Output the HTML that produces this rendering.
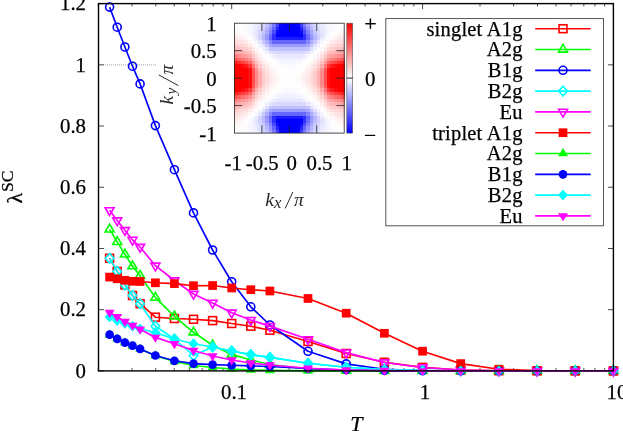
<!DOCTYPE html>
<html>
<head>
<meta charset="utf-8">
<title>lambda SC vs T</title>
<style>
html,body{margin:0;padding:0;background:#fff;}
body{width:623px;height:431px;overflow:hidden;font-family:"Liberation Serif",serif;}
svg{display:block;will-change:transform;}
svg text{stroke:#000;stroke-width:0.25px;}
svg text.lt{stroke:none;}
</style>
</head>
<body>
<svg width="623" height="431" viewBox="0 0 623 431">
<rect x="0" y="0" width="623" height="431" fill="#fff"/>
<g stroke="#333" stroke-width="0.9" fill="none">
<path d="M98.5 370.9h5.5M613.4 370.9h-5.5"/>
<path d="M98.5 309.68h5.5M613.4 309.68h-5.5"/>
<path d="M98.5 248.47h5.5M613.4 248.47h-5.5"/>
<path d="M98.5 187.25h5.5M613.4 187.25h-5.5"/>
<path d="M98.5 126.03h5.5M613.4 126.03h-5.5"/>
<path d="M98.5 64.82h5.5M613.4 64.82h-5.5"/>
<path d="M98.5 3.6h5.5M613.4 3.6h-5.5"/>
<path d="M98.3 370.9v-2.8 M98.3 3.6v2.8"/>
<path d="M131.91 370.9v-2.8 M131.91 3.6v2.8"/>
<path d="M155.75 370.9v-2.8 M155.75 3.6v2.8"/>
<path d="M174.25 370.9v-2.8 M174.25 3.6v2.8"/>
<path d="M189.36 370.9v-2.8 M189.36 3.6v2.8"/>
<path d="M202.14 370.9v-2.8 M202.14 3.6v2.8"/>
<path d="M213.2 370.9v-2.8 M213.2 3.6v2.8"/>
<path d="M222.97 370.9v-2.8 M222.97 3.6v2.8"/>
<path d="M231.7 370.9v-5.5 M231.7 3.6v5.5"/>
<path d="M289.15 370.9v-2.8 M289.15 3.6v2.8"/>
<path d="M322.76 370.9v-2.8 M322.76 3.6v2.8"/>
<path d="M346.6 370.9v-2.8 M346.6 3.6v2.8"/>
<path d="M365.1 370.9v-2.8 M365.1 3.6v2.8"/>
<path d="M380.21 370.9v-2.8 M380.21 3.6v2.8"/>
<path d="M392.99 370.9v-2.8 M392.99 3.6v2.8"/>
<path d="M404.05 370.9v-2.8 M404.05 3.6v2.8"/>
<path d="M413.82 370.9v-2.8 M413.82 3.6v2.8"/>
<path d="M422.55 370.9v-5.5 M422.55 3.6v5.5"/>
<path d="M480 370.9v-2.8 M480 3.6v2.8"/>
<path d="M513.61 370.9v-2.8 M513.61 3.6v2.8"/>
<path d="M537.45 370.9v-2.8 M537.45 3.6v2.8"/>
<path d="M555.95 370.9v-2.8 M555.95 3.6v2.8"/>
<path d="M571.06 370.9v-2.8 M571.06 3.6v2.8"/>
<path d="M583.84 370.9v-2.8 M583.84 3.6v2.8"/>
<path d="M594.9 370.9v-2.8 M594.9 3.6v2.8"/>
<path d="M604.67 370.9v-2.8 M604.67 3.6v2.8"/>
<path d="M613.4 370.9v-5.5 M613.4 3.6v5.5"/>
</g>
<path d="M105 64.82H156" stroke="#aaa" stroke-width="1" stroke-dasharray="1 1" fill="none"/>
<rect x="234.4" y="23.2" width="109.8" height="109.9" fill="#fff"/>
<g shape-rendering="crispEdges">
<rect x="237.83" y="23.2" width="3.73" height="3.73" fill="#fefeff"/>
<rect x="241.26" y="23.2" width="3.73" height="3.73" fill="#fcfcff"/>
<rect x="244.69" y="23.2" width="3.73" height="3.73" fill="#fafaff"/>
<rect x="248.12" y="23.2" width="3.73" height="3.73" fill="#f7f7ff"/>
<rect x="251.56" y="23.2" width="3.73" height="3.73" fill="#f2f2ff"/>
<rect x="254.99" y="23.2" width="3.73" height="3.73" fill="#ececff"/>
<rect x="258.42" y="23.2" width="3.73" height="3.73" fill="#e3e3ff"/>
<rect x="261.85" y="23.2" width="3.73" height="3.73" fill="#d5d5ff"/>
<rect x="265.28" y="23.2" width="3.73" height="3.73" fill="#c1c1ff"/>
<rect x="268.71" y="23.2" width="3.73" height="3.73" fill="#a4a4ff"/>
<rect x="272.14" y="23.2" width="3.73" height="3.73" fill="#7979ff"/>
<rect x="275.57" y="23.2" width="3.73" height="3.73" fill="#4040ff"/>
<rect x="279.01" y="23.2" width="3.73" height="3.73" fill="#0707ff"/>
<rect x="282.44" y="23.2" width="14.02" height="3.73" fill="#0000ff"/>
<rect x="296.16" y="23.2" width="3.73" height="3.73" fill="#0707ff"/>
<rect x="299.59" y="23.2" width="3.73" height="3.73" fill="#4040ff"/>
<rect x="303.02" y="23.2" width="3.73" height="3.73" fill="#7979ff"/>
<rect x="306.46" y="23.2" width="3.73" height="3.73" fill="#a4a4ff"/>
<rect x="309.89" y="23.2" width="3.73" height="3.73" fill="#c1c1ff"/>
<rect x="313.32" y="23.2" width="3.73" height="3.73" fill="#d5d5ff"/>
<rect x="316.75" y="23.2" width="3.73" height="3.73" fill="#e3e3ff"/>
<rect x="320.18" y="23.2" width="3.73" height="3.73" fill="#ececff"/>
<rect x="323.61" y="23.2" width="3.73" height="3.73" fill="#f2f2ff"/>
<rect x="327.04" y="23.2" width="3.73" height="3.73" fill="#f7f7ff"/>
<rect x="330.48" y="23.2" width="3.73" height="3.73" fill="#fafaff"/>
<rect x="333.91" y="23.2" width="3.73" height="3.73" fill="#fcfcff"/>
<rect x="337.34" y="23.2" width="3.73" height="3.73" fill="#fefeff"/>
<rect x="234.4" y="26.63" width="3.73" height="3.73" fill="#fffbfb"/>
<rect x="241.26" y="26.63" width="3.73" height="3.73" fill="#fdfdff"/>
<rect x="244.69" y="26.63" width="3.73" height="3.73" fill="#fafaff"/>
<rect x="248.12" y="26.63" width="3.73" height="3.73" fill="#f6f6ff"/>
<rect x="251.56" y="26.63" width="3.73" height="3.73" fill="#f0f0ff"/>
<rect x="254.99" y="26.63" width="3.73" height="3.73" fill="#e9e9ff"/>
<rect x="258.42" y="26.63" width="3.73" height="3.73" fill="#dedeff"/>
<rect x="261.85" y="26.63" width="3.73" height="3.73" fill="#ceceff"/>
<rect x="265.28" y="26.63" width="3.73" height="3.73" fill="#b6b6ff"/>
<rect x="268.71" y="26.63" width="3.73" height="3.73" fill="#9494ff"/>
<rect x="272.14" y="26.63" width="3.73" height="3.73" fill="#6363ff"/>
<rect x="275.57" y="26.63" width="3.73" height="3.73" fill="#2525ff"/>
<rect x="279.01" y="26.63" width="20.89" height="3.73" fill="#0000ff"/>
<rect x="299.59" y="26.63" width="3.73" height="3.73" fill="#2525ff"/>
<rect x="303.02" y="26.63" width="3.73" height="3.73" fill="#6363ff"/>
<rect x="306.46" y="26.63" width="3.73" height="3.73" fill="#9494ff"/>
<rect x="309.89" y="26.63" width="3.73" height="3.73" fill="#b6b6ff"/>
<rect x="313.32" y="26.63" width="3.73" height="3.73" fill="#ceceff"/>
<rect x="316.75" y="26.63" width="3.73" height="3.73" fill="#dedeff"/>
<rect x="320.18" y="26.63" width="3.73" height="3.73" fill="#e9e9ff"/>
<rect x="323.61" y="26.63" width="3.73" height="3.73" fill="#f0f0ff"/>
<rect x="327.04" y="26.63" width="3.73" height="3.73" fill="#f6f6ff"/>
<rect x="330.48" y="26.63" width="3.73" height="3.73" fill="#fafaff"/>
<rect x="333.91" y="26.63" width="3.73" height="3.73" fill="#fdfdff"/>
<rect x="340.77" y="26.63" width="3.73" height="3.73" fill="#fffbfb"/>
<rect x="234.4" y="30.07" width="3.73" height="3.73" fill="#fff6f6"/>
<rect x="237.83" y="30.07" width="3.73" height="3.73" fill="#fffafa"/>
<rect x="244.69" y="30.07" width="3.73" height="3.73" fill="#fcfcff"/>
<rect x="248.12" y="30.07" width="3.73" height="3.73" fill="#f7f7ff"/>
<rect x="251.56" y="30.07" width="3.73" height="3.73" fill="#eeeeff"/>
<rect x="254.99" y="30.07" width="3.73" height="3.73" fill="#e5e5ff"/>
<rect x="258.42" y="30.07" width="3.73" height="3.73" fill="#d8d8ff"/>
<rect x="261.85" y="30.07" width="3.73" height="3.73" fill="#c5c5ff"/>
<rect x="265.28" y="30.07" width="3.73" height="3.73" fill="#a9a9ff"/>
<rect x="268.71" y="30.07" width="3.73" height="3.73" fill="#8181ff"/>
<rect x="272.14" y="30.07" width="3.73" height="3.73" fill="#4a4aff"/>
<rect x="275.57" y="30.07" width="3.73" height="3.73" fill="#0e0eff"/>
<rect x="279.01" y="30.07" width="20.89" height="3.73" fill="#0000ff"/>
<rect x="299.59" y="30.07" width="3.73" height="3.73" fill="#0e0eff"/>
<rect x="303.02" y="30.07" width="3.73" height="3.73" fill="#4a4aff"/>
<rect x="306.46" y="30.07" width="3.73" height="3.73" fill="#8181ff"/>
<rect x="309.89" y="30.07" width="3.73" height="3.73" fill="#a9a9ff"/>
<rect x="313.32" y="30.07" width="3.73" height="3.73" fill="#c5c5ff"/>
<rect x="316.75" y="30.07" width="3.73" height="3.73" fill="#d8d8ff"/>
<rect x="320.18" y="30.07" width="3.73" height="3.73" fill="#e5e5ff"/>
<rect x="323.61" y="30.07" width="3.73" height="3.73" fill="#eeeeff"/>
<rect x="327.04" y="30.07" width="3.73" height="3.73" fill="#f7f7ff"/>
<rect x="330.48" y="30.07" width="3.73" height="3.73" fill="#fcfcff"/>
<rect x="337.34" y="30.07" width="3.73" height="3.73" fill="#fffafa"/>
<rect x="340.77" y="30.07" width="3.73" height="3.73" fill="#fff6f6"/>
<rect x="234.4" y="33.5" width="3.73" height="3.73" fill="#ffeeee"/>
<rect x="237.83" y="33.5" width="3.73" height="3.73" fill="#fff4f4"/>
<rect x="241.26" y="33.5" width="3.73" height="3.73" fill="#fff9f9"/>
<rect x="248.12" y="33.5" width="3.73" height="3.73" fill="#f9f9ff"/>
<rect x="251.56" y="33.5" width="3.73" height="3.73" fill="#f1f1ff"/>
<rect x="254.99" y="33.5" width="3.73" height="3.73" fill="#e2e2ff"/>
<rect x="258.42" y="33.5" width="3.73" height="3.73" fill="#d1d1ff"/>
<rect x="261.85" y="33.5" width="3.73" height="3.73" fill="#bbbbff"/>
<rect x="265.28" y="33.5" width="3.73" height="3.73" fill="#9a9aff"/>
<rect x="268.71" y="33.5" width="3.73" height="3.73" fill="#6c6cff"/>
<rect x="272.14" y="33.5" width="3.73" height="3.73" fill="#2f2fff"/>
<rect x="275.57" y="33.5" width="3.73" height="3.73" fill="#0101ff"/>
<rect x="279.01" y="33.5" width="20.89" height="3.73" fill="#0000ff"/>
<rect x="299.59" y="33.5" width="3.73" height="3.73" fill="#0101ff"/>
<rect x="303.02" y="33.5" width="3.73" height="3.73" fill="#2f2fff"/>
<rect x="306.46" y="33.5" width="3.73" height="3.73" fill="#6c6cff"/>
<rect x="309.89" y="33.5" width="3.73" height="3.73" fill="#9a9aff"/>
<rect x="313.32" y="33.5" width="3.73" height="3.73" fill="#bbbbff"/>
<rect x="316.75" y="33.5" width="3.73" height="3.73" fill="#d1d1ff"/>
<rect x="320.18" y="33.5" width="3.73" height="3.73" fill="#e2e2ff"/>
<rect x="323.61" y="33.5" width="3.73" height="3.73" fill="#f1f1ff"/>
<rect x="327.04" y="33.5" width="3.73" height="3.73" fill="#f9f9ff"/>
<rect x="333.91" y="33.5" width="3.73" height="3.73" fill="#fff9f9"/>
<rect x="337.34" y="33.5" width="3.73" height="3.73" fill="#fff4f4"/>
<rect x="340.77" y="33.5" width="3.73" height="3.73" fill="#ffeeee"/>
<rect x="234.4" y="36.94" width="3.73" height="3.73" fill="#ffe6e6"/>
<rect x="237.83" y="36.94" width="3.73" height="3.73" fill="#ffeaea"/>
<rect x="241.26" y="36.94" width="3.73" height="3.73" fill="#fff1f1"/>
<rect x="244.69" y="36.94" width="3.73" height="3.73" fill="#fff8f8"/>
<rect x="251.56" y="36.94" width="3.73" height="3.73" fill="#f6f6ff"/>
<rect x="254.99" y="36.94" width="3.73" height="3.73" fill="#e9e9ff"/>
<rect x="258.42" y="36.94" width="3.73" height="3.73" fill="#d1d1ff"/>
<rect x="261.85" y="36.94" width="3.73" height="3.73" fill="#b7b7ff"/>
<rect x="265.28" y="36.94" width="3.73" height="3.73" fill="#9595ff"/>
<rect x="268.71" y="36.94" width="3.73" height="3.73" fill="#6666ff"/>
<rect x="272.14" y="36.94" width="3.73" height="3.73" fill="#2f2fff"/>
<rect x="275.57" y="36.94" width="27.75" height="3.73" fill="#1b1bff"/>
<rect x="303.02" y="36.94" width="3.73" height="3.73" fill="#2f2fff"/>
<rect x="306.46" y="36.94" width="3.73" height="3.73" fill="#6666ff"/>
<rect x="309.89" y="36.94" width="3.73" height="3.73" fill="#9595ff"/>
<rect x="313.32" y="36.94" width="3.73" height="3.73" fill="#b7b7ff"/>
<rect x="316.75" y="36.94" width="3.73" height="3.73" fill="#d1d1ff"/>
<rect x="320.18" y="36.94" width="3.73" height="3.73" fill="#e9e9ff"/>
<rect x="323.61" y="36.94" width="3.73" height="3.73" fill="#f6f6ff"/>
<rect x="330.48" y="36.94" width="3.73" height="3.73" fill="#fff8f8"/>
<rect x="333.91" y="36.94" width="3.73" height="3.73" fill="#fff1f1"/>
<rect x="337.34" y="36.94" width="3.73" height="3.73" fill="#ffeaea"/>
<rect x="340.77" y="36.94" width="3.73" height="3.73" fill="#ffe6e6"/>
<rect x="234.4" y="40.37" width="3.73" height="3.73" fill="#ffdcdc"/>
<rect x="237.83" y="40.37" width="3.73" height="3.73" fill="#ffe0e0"/>
<rect x="241.26" y="40.37" width="3.73" height="3.73" fill="#ffe4e4"/>
<rect x="244.69" y="40.37" width="3.73" height="3.73" fill="#ffeded"/>
<rect x="248.12" y="40.37" width="3.73" height="3.73" fill="#fff6f6"/>
<rect x="254.99" y="40.37" width="3.73" height="3.73" fill="#f5f5ff"/>
<rect x="258.42" y="40.37" width="3.73" height="3.73" fill="#e4e4ff"/>
<rect x="261.85" y="40.37" width="3.73" height="3.73" fill="#c8c8ff"/>
<rect x="265.28" y="40.37" width="3.73" height="3.73" fill="#ababff"/>
<rect x="268.71" y="40.37" width="3.73" height="3.73" fill="#8787ff"/>
<rect x="272.14" y="40.37" width="3.73" height="3.73" fill="#6767ff"/>
<rect x="275.57" y="40.37" width="27.75" height="3.73" fill="#6565ff"/>
<rect x="303.02" y="40.37" width="3.73" height="3.73" fill="#6767ff"/>
<rect x="306.46" y="40.37" width="3.73" height="3.73" fill="#8787ff"/>
<rect x="309.89" y="40.37" width="3.73" height="3.73" fill="#ababff"/>
<rect x="313.32" y="40.37" width="3.73" height="3.73" fill="#c8c8ff"/>
<rect x="316.75" y="40.37" width="3.73" height="3.73" fill="#e4e4ff"/>
<rect x="320.18" y="40.37" width="3.73" height="3.73" fill="#f5f5ff"/>
<rect x="327.04" y="40.37" width="3.73" height="3.73" fill="#fff6f6"/>
<rect x="330.48" y="40.37" width="3.73" height="3.73" fill="#ffeded"/>
<rect x="333.91" y="40.37" width="3.73" height="3.73" fill="#ffe4e4"/>
<rect x="337.34" y="40.37" width="3.73" height="3.73" fill="#ffe0e0"/>
<rect x="340.77" y="40.37" width="3.73" height="3.73" fill="#ffdcdc"/>
<rect x="234.4" y="43.81" width="3.73" height="3.73" fill="#ffcfcf"/>
<rect x="237.83" y="43.81" width="3.73" height="3.73" fill="#ffd4d4"/>
<rect x="241.26" y="43.81" width="3.73" height="3.73" fill="#ffd8d8"/>
<rect x="244.69" y="43.81" width="3.73" height="3.73" fill="#ffdddd"/>
<rect x="248.12" y="43.81" width="3.73" height="3.73" fill="#ffeaea"/>
<rect x="251.56" y="43.81" width="3.73" height="3.73" fill="#fff7f7"/>
<rect x="258.42" y="43.81" width="3.73" height="3.73" fill="#f3f3ff"/>
<rect x="261.85" y="43.81" width="3.73" height="3.73" fill="#e1e1ff"/>
<rect x="265.28" y="43.81" width="3.73" height="3.73" fill="#c4c4ff"/>
<rect x="268.71" y="43.81" width="3.73" height="3.73" fill="#a8a8ff"/>
<rect x="272.14" y="43.81" width="34.61" height="3.73" fill="#9c9cff"/>
<rect x="306.46" y="43.81" width="3.73" height="3.73" fill="#a8a8ff"/>
<rect x="309.89" y="43.81" width="3.73" height="3.73" fill="#c4c4ff"/>
<rect x="313.32" y="43.81" width="3.73" height="3.73" fill="#e1e1ff"/>
<rect x="316.75" y="43.81" width="3.73" height="3.73" fill="#f3f3ff"/>
<rect x="323.61" y="43.81" width="3.73" height="3.73" fill="#fff7f7"/>
<rect x="327.04" y="43.81" width="3.73" height="3.73" fill="#ffeaea"/>
<rect x="330.48" y="43.81" width="3.73" height="3.73" fill="#ffdddd"/>
<rect x="333.91" y="43.81" width="3.73" height="3.73" fill="#ffd8d8"/>
<rect x="337.34" y="43.81" width="3.73" height="3.73" fill="#ffd4d4"/>
<rect x="340.77" y="43.81" width="3.73" height="3.73" fill="#ffcfcf"/>
<rect x="234.4" y="47.24" width="3.73" height="3.73" fill="#ffbdbd"/>
<rect x="237.83" y="47.24" width="3.73" height="3.73" fill="#ffc3c3"/>
<rect x="241.26" y="47.24" width="3.73" height="3.73" fill="#ffc9c9"/>
<rect x="244.69" y="47.24" width="3.73" height="3.73" fill="#ffcece"/>
<rect x="248.12" y="47.24" width="3.73" height="3.73" fill="#ffd7d7"/>
<rect x="251.56" y="47.24" width="3.73" height="3.73" fill="#ffecec"/>
<rect x="254.99" y="47.24" width="3.73" height="3.73" fill="#fff8f8"/>
<rect x="261.85" y="47.24" width="3.73" height="3.73" fill="#f2f2ff"/>
<rect x="265.28" y="47.24" width="3.73" height="3.73" fill="#e0e0ff"/>
<rect x="268.71" y="47.24" width="3.73" height="3.73" fill="#c6c6ff"/>
<rect x="272.14" y="47.24" width="34.61" height="3.73" fill="#c1c1ff"/>
<rect x="306.46" y="47.24" width="3.73" height="3.73" fill="#c6c6ff"/>
<rect x="309.89" y="47.24" width="3.73" height="3.73" fill="#e0e0ff"/>
<rect x="313.32" y="47.24" width="3.73" height="3.73" fill="#f2f2ff"/>
<rect x="320.18" y="47.24" width="3.73" height="3.73" fill="#fff8f8"/>
<rect x="323.61" y="47.24" width="3.73" height="3.73" fill="#ffecec"/>
<rect x="327.04" y="47.24" width="3.73" height="3.73" fill="#ffd7d7"/>
<rect x="330.48" y="47.24" width="3.73" height="3.73" fill="#ffcece"/>
<rect x="333.91" y="47.24" width="3.73" height="3.73" fill="#ffc9c9"/>
<rect x="337.34" y="47.24" width="3.73" height="3.73" fill="#ffc3c3"/>
<rect x="340.77" y="47.24" width="3.73" height="3.73" fill="#ffbdbd"/>
<rect x="234.4" y="50.67" width="3.73" height="3.73" fill="#ffa4a4"/>
<rect x="237.83" y="50.67" width="3.73" height="3.73" fill="#ffacac"/>
<rect x="241.26" y="50.67" width="3.73" height="3.73" fill="#ffb4b4"/>
<rect x="244.69" y="50.67" width="3.73" height="3.73" fill="#ffbbbb"/>
<rect x="248.12" y="50.67" width="3.73" height="3.73" fill="#ffc5c5"/>
<rect x="251.56" y="50.67" width="3.73" height="3.73" fill="#ffdada"/>
<rect x="254.99" y="50.67" width="3.73" height="3.73" fill="#ffefef"/>
<rect x="258.42" y="50.67" width="3.73" height="3.73" fill="#fff9f9"/>
<rect x="265.28" y="50.67" width="3.73" height="3.73" fill="#f2f2ff"/>
<rect x="268.71" y="50.67" width="3.73" height="3.73" fill="#e5e5ff"/>
<rect x="272.14" y="50.67" width="3.73" height="3.73" fill="#dadaff"/>
<rect x="275.57" y="50.67" width="27.75" height="3.73" fill="#d8d8ff"/>
<rect x="303.02" y="50.67" width="3.73" height="3.73" fill="#dadaff"/>
<rect x="306.46" y="50.67" width="3.73" height="3.73" fill="#e5e5ff"/>
<rect x="309.89" y="50.67" width="3.73" height="3.73" fill="#f2f2ff"/>
<rect x="316.75" y="50.67" width="3.73" height="3.73" fill="#fff9f9"/>
<rect x="320.18" y="50.67" width="3.73" height="3.73" fill="#ffefef"/>
<rect x="323.61" y="50.67" width="3.73" height="3.73" fill="#ffdada"/>
<rect x="327.04" y="50.67" width="3.73" height="3.73" fill="#ffc5c5"/>
<rect x="330.48" y="50.67" width="3.73" height="3.73" fill="#ffbbbb"/>
<rect x="333.91" y="50.67" width="3.73" height="3.73" fill="#ffb4b4"/>
<rect x="337.34" y="50.67" width="3.73" height="3.73" fill="#ffacac"/>
<rect x="340.77" y="50.67" width="3.73" height="3.73" fill="#ffa4a4"/>
<rect x="234.4" y="54.11" width="3.73" height="3.73" fill="#ff8282"/>
<rect x="237.83" y="54.11" width="3.73" height="3.73" fill="#ff8d8d"/>
<rect x="241.26" y="54.11" width="3.73" height="3.73" fill="#ff9797"/>
<rect x="244.69" y="54.11" width="3.73" height="3.73" fill="#ffa1a1"/>
<rect x="248.12" y="54.11" width="3.73" height="3.73" fill="#ffaeae"/>
<rect x="251.56" y="54.11" width="3.73" height="3.73" fill="#ffcaca"/>
<rect x="254.99" y="54.11" width="3.73" height="3.73" fill="#ffe0e0"/>
<rect x="258.42" y="54.11" width="3.73" height="3.73" fill="#fff1f1"/>
<rect x="261.85" y="54.11" width="3.73" height="3.73" fill="#fffafa"/>
<rect x="268.71" y="54.11" width="3.73" height="3.73" fill="#f6f6ff"/>
<rect x="272.14" y="54.11" width="3.73" height="3.73" fill="#efefff"/>
<rect x="275.57" y="54.11" width="3.73" height="3.73" fill="#e8e8ff"/>
<rect x="279.01" y="54.11" width="20.89" height="3.73" fill="#e7e7ff"/>
<rect x="299.59" y="54.11" width="3.73" height="3.73" fill="#e8e8ff"/>
<rect x="303.02" y="54.11" width="3.73" height="3.73" fill="#efefff"/>
<rect x="306.46" y="54.11" width="3.73" height="3.73" fill="#f6f6ff"/>
<rect x="313.32" y="54.11" width="3.73" height="3.73" fill="#fffafa"/>
<rect x="316.75" y="54.11" width="3.73" height="3.73" fill="#fff1f1"/>
<rect x="320.18" y="54.11" width="3.73" height="3.73" fill="#ffe0e0"/>
<rect x="323.61" y="54.11" width="3.73" height="3.73" fill="#ffcaca"/>
<rect x="327.04" y="54.11" width="3.73" height="3.73" fill="#ffaeae"/>
<rect x="330.48" y="54.11" width="3.73" height="3.73" fill="#ffa1a1"/>
<rect x="333.91" y="54.11" width="3.73" height="3.73" fill="#ff9797"/>
<rect x="337.34" y="54.11" width="3.73" height="3.73" fill="#ff8d8d"/>
<rect x="340.77" y="54.11" width="3.73" height="3.73" fill="#ff8282"/>
<rect x="234.4" y="57.54" width="3.73" height="3.73" fill="#ff5555"/>
<rect x="237.83" y="57.54" width="3.73" height="3.73" fill="#ff6464"/>
<rect x="241.26" y="57.54" width="3.73" height="3.73" fill="#ff7171"/>
<rect x="244.69" y="57.54" width="3.73" height="3.73" fill="#ff7e7e"/>
<rect x="248.12" y="57.54" width="3.73" height="3.73" fill="#ff9090"/>
<rect x="251.56" y="57.54" width="3.73" height="3.73" fill="#ffb5b5"/>
<rect x="254.99" y="57.54" width="3.73" height="3.73" fill="#ffd2d2"/>
<rect x="258.42" y="57.54" width="3.73" height="3.73" fill="#ffe5e5"/>
<rect x="261.85" y="57.54" width="3.73" height="3.73" fill="#fff4f4"/>
<rect x="265.28" y="57.54" width="3.73" height="3.73" fill="#fffbfb"/>
<rect x="272.14" y="57.54" width="3.73" height="3.73" fill="#f9f9ff"/>
<rect x="275.57" y="57.54" width="3.73" height="3.73" fill="#f5f5ff"/>
<rect x="279.01" y="57.54" width="3.73" height="3.73" fill="#f1f1ff"/>
<rect x="282.44" y="57.54" width="14.02" height="3.73" fill="#f0f0ff"/>
<rect x="296.16" y="57.54" width="3.73" height="3.73" fill="#f1f1ff"/>
<rect x="299.59" y="57.54" width="3.73" height="3.73" fill="#f5f5ff"/>
<rect x="303.02" y="57.54" width="3.73" height="3.73" fill="#f9f9ff"/>
<rect x="309.89" y="57.54" width="3.73" height="3.73" fill="#fffbfb"/>
<rect x="313.32" y="57.54" width="3.73" height="3.73" fill="#fff4f4"/>
<rect x="316.75" y="57.54" width="3.73" height="3.73" fill="#ffe5e5"/>
<rect x="320.18" y="57.54" width="3.73" height="3.73" fill="#ffd2d2"/>
<rect x="323.61" y="57.54" width="3.73" height="3.73" fill="#ffb5b5"/>
<rect x="327.04" y="57.54" width="3.73" height="3.73" fill="#ff9090"/>
<rect x="330.48" y="57.54" width="3.73" height="3.73" fill="#ff7e7e"/>
<rect x="333.91" y="57.54" width="3.73" height="3.73" fill="#ff7171"/>
<rect x="337.34" y="57.54" width="3.73" height="3.73" fill="#ff6464"/>
<rect x="340.77" y="57.54" width="3.73" height="3.73" fill="#ff5555"/>
<rect x="234.4" y="60.98" width="3.73" height="3.73" fill="#ff2020"/>
<rect x="237.83" y="60.98" width="3.73" height="3.73" fill="#ff3030"/>
<rect x="241.26" y="60.98" width="3.73" height="3.73" fill="#ff4040"/>
<rect x="244.69" y="60.98" width="3.73" height="3.73" fill="#ff5050"/>
<rect x="248.12" y="60.98" width="3.73" height="3.73" fill="#ff6868"/>
<rect x="251.56" y="60.98" width="3.73" height="3.73" fill="#ff9a9a"/>
<rect x="254.99" y="60.98" width="3.73" height="3.73" fill="#ffc1c1"/>
<rect x="258.42" y="60.98" width="3.73" height="3.73" fill="#ffd9d9"/>
<rect x="261.85" y="60.98" width="3.73" height="3.73" fill="#ffe9e9"/>
<rect x="265.28" y="60.98" width="3.73" height="3.73" fill="#fff6f6"/>
<rect x="268.71" y="60.98" width="3.73" height="3.73" fill="#fffcfc"/>
<rect x="275.57" y="60.98" width="3.73" height="3.73" fill="#fbfbff"/>
<rect x="279.01" y="60.98" width="3.73" height="3.73" fill="#f9f9ff"/>
<rect x="282.44" y="60.98" width="14.02" height="3.73" fill="#f6f6ff"/>
<rect x="296.16" y="60.98" width="3.73" height="3.73" fill="#f9f9ff"/>
<rect x="299.59" y="60.98" width="3.73" height="3.73" fill="#fbfbff"/>
<rect x="306.46" y="60.98" width="3.73" height="3.73" fill="#fffcfc"/>
<rect x="309.89" y="60.98" width="3.73" height="3.73" fill="#fff6f6"/>
<rect x="313.32" y="60.98" width="3.73" height="3.73" fill="#ffe9e9"/>
<rect x="316.75" y="60.98" width="3.73" height="3.73" fill="#ffd9d9"/>
<rect x="320.18" y="60.98" width="3.73" height="3.73" fill="#ffc1c1"/>
<rect x="323.61" y="60.98" width="3.73" height="3.73" fill="#ff9a9a"/>
<rect x="327.04" y="60.98" width="3.73" height="3.73" fill="#ff6868"/>
<rect x="330.48" y="60.98" width="3.73" height="3.73" fill="#ff5050"/>
<rect x="333.91" y="60.98" width="3.73" height="3.73" fill="#ff4040"/>
<rect x="337.34" y="60.98" width="3.73" height="3.73" fill="#ff3030"/>
<rect x="340.77" y="60.98" width="3.73" height="3.73" fill="#ff2020"/>
<rect x="234.4" y="64.41" width="3.73" height="3.73" fill="#ff0000"/>
<rect x="237.83" y="64.41" width="3.73" height="3.73" fill="#ff0303"/>
<rect x="241.26" y="64.41" width="3.73" height="3.73" fill="#ff0d0d"/>
<rect x="244.69" y="64.41" width="3.73" height="3.73" fill="#ff1b1b"/>
<rect x="248.12" y="64.41" width="3.73" height="3.73" fill="#ff3737"/>
<rect x="251.56" y="64.41" width="3.73" height="3.73" fill="#ff7878"/>
<rect x="254.99" y="64.41" width="3.73" height="3.73" fill="#ffabab"/>
<rect x="258.42" y="64.41" width="3.73" height="3.73" fill="#ffcbcb"/>
<rect x="261.85" y="64.41" width="3.73" height="3.73" fill="#ffe0e0"/>
<rect x="265.28" y="64.41" width="3.73" height="3.73" fill="#ffeded"/>
<rect x="268.71" y="64.41" width="3.73" height="3.73" fill="#fff7f7"/>
<rect x="272.14" y="64.41" width="3.73" height="3.73" fill="#fffcfc"/>
<rect x="279.01" y="64.41" width="3.73" height="3.73" fill="#fdfdff"/>
<rect x="282.44" y="64.41" width="3.73" height="3.73" fill="#fbfbff"/>
<rect x="285.87" y="64.41" width="7.16" height="3.73" fill="#fafaff"/>
<rect x="292.73" y="64.41" width="3.73" height="3.73" fill="#fbfbff"/>
<rect x="296.16" y="64.41" width="3.73" height="3.73" fill="#fdfdff"/>
<rect x="303.02" y="64.41" width="3.73" height="3.73" fill="#fffcfc"/>
<rect x="306.46" y="64.41" width="3.73" height="3.73" fill="#fff7f7"/>
<rect x="309.89" y="64.41" width="3.73" height="3.73" fill="#ffeded"/>
<rect x="313.32" y="64.41" width="3.73" height="3.73" fill="#ffe0e0"/>
<rect x="316.75" y="64.41" width="3.73" height="3.73" fill="#ffcbcb"/>
<rect x="320.18" y="64.41" width="3.73" height="3.73" fill="#ffabab"/>
<rect x="323.61" y="64.41" width="3.73" height="3.73" fill="#ff7878"/>
<rect x="327.04" y="64.41" width="3.73" height="3.73" fill="#ff3737"/>
<rect x="330.48" y="64.41" width="3.73" height="3.73" fill="#ff1b1b"/>
<rect x="333.91" y="64.41" width="3.73" height="3.73" fill="#ff0d0d"/>
<rect x="337.34" y="64.41" width="3.73" height="3.73" fill="#ff0303"/>
<rect x="340.77" y="64.41" width="3.73" height="3.73" fill="#ff0000"/>
<rect x="234.4" y="67.85" width="14.02" height="3.73" fill="#ff0000"/>
<rect x="248.12" y="67.85" width="3.73" height="3.73" fill="#ff1010"/>
<rect x="251.56" y="67.85" width="3.73" height="3.73" fill="#ff5656"/>
<rect x="254.99" y="67.85" width="3.73" height="3.73" fill="#ff9292"/>
<rect x="258.42" y="67.85" width="3.73" height="3.73" fill="#ffbbbb"/>
<rect x="261.85" y="67.85" width="3.73" height="3.73" fill="#ffd5d5"/>
<rect x="265.28" y="67.85" width="3.73" height="3.73" fill="#ffe5e5"/>
<rect x="268.71" y="67.85" width="3.73" height="3.73" fill="#fff0f0"/>
<rect x="272.14" y="67.85" width="3.73" height="3.73" fill="#fff9f9"/>
<rect x="275.57" y="67.85" width="3.73" height="3.73" fill="#fffdfd"/>
<rect x="282.44" y="67.85" width="3.73" height="3.73" fill="#fefeff"/>
<rect x="285.87" y="67.85" width="7.16" height="3.73" fill="#fdfdff"/>
<rect x="292.73" y="67.85" width="3.73" height="3.73" fill="#fefeff"/>
<rect x="299.59" y="67.85" width="3.73" height="3.73" fill="#fffdfd"/>
<rect x="303.02" y="67.85" width="3.73" height="3.73" fill="#fff9f9"/>
<rect x="306.46" y="67.85" width="3.73" height="3.73" fill="#fff0f0"/>
<rect x="309.89" y="67.85" width="3.73" height="3.73" fill="#ffe5e5"/>
<rect x="313.32" y="67.85" width="3.73" height="3.73" fill="#ffd5d5"/>
<rect x="316.75" y="67.85" width="3.73" height="3.73" fill="#ffbbbb"/>
<rect x="320.18" y="67.85" width="3.73" height="3.73" fill="#ff9292"/>
<rect x="323.61" y="67.85" width="3.73" height="3.73" fill="#ff5656"/>
<rect x="327.04" y="67.85" width="3.73" height="3.73" fill="#ff1010"/>
<rect x="330.48" y="67.85" width="14.02" height="3.73" fill="#ff0000"/>
<rect x="234.4" y="71.28" width="14.02" height="3.73" fill="#ff0000"/>
<rect x="248.12" y="71.28" width="3.73" height="3.73" fill="#ff0f0f"/>
<rect x="251.56" y="71.28" width="3.73" height="3.73" fill="#ff5050"/>
<rect x="254.99" y="71.28" width="3.73" height="3.73" fill="#ff8888"/>
<rect x="258.42" y="71.28" width="3.73" height="3.73" fill="#ffafaf"/>
<rect x="261.85" y="71.28" width="3.73" height="3.73" fill="#ffcbcb"/>
<rect x="265.28" y="71.28" width="3.73" height="3.73" fill="#ffdede"/>
<rect x="268.71" y="71.28" width="3.73" height="3.73" fill="#ffebeb"/>
<rect x="272.14" y="71.28" width="3.73" height="3.73" fill="#fff3f3"/>
<rect x="275.57" y="71.28" width="3.73" height="3.73" fill="#fffafa"/>
<rect x="279.01" y="71.28" width="3.73" height="3.73" fill="#fffdfd"/>
<rect x="285.87" y="71.28" width="7.16" height="3.73" fill="#fefeff"/>
<rect x="296.16" y="71.28" width="3.73" height="3.73" fill="#fffdfd"/>
<rect x="299.59" y="71.28" width="3.73" height="3.73" fill="#fffafa"/>
<rect x="303.02" y="71.28" width="3.73" height="3.73" fill="#fff3f3"/>
<rect x="306.46" y="71.28" width="3.73" height="3.73" fill="#ffebeb"/>
<rect x="309.89" y="71.28" width="3.73" height="3.73" fill="#ffdede"/>
<rect x="313.32" y="71.28" width="3.73" height="3.73" fill="#ffcbcb"/>
<rect x="316.75" y="71.28" width="3.73" height="3.73" fill="#ffafaf"/>
<rect x="320.18" y="71.28" width="3.73" height="3.73" fill="#ff8888"/>
<rect x="323.61" y="71.28" width="3.73" height="3.73" fill="#ff5050"/>
<rect x="327.04" y="71.28" width="3.73" height="3.73" fill="#ff0f0f"/>
<rect x="330.48" y="71.28" width="14.02" height="3.73" fill="#ff0000"/>
<rect x="234.4" y="74.72" width="14.02" height="3.73" fill="#ff0000"/>
<rect x="248.12" y="74.72" width="3.73" height="3.73" fill="#ff0f0f"/>
<rect x="251.56" y="74.72" width="3.73" height="3.73" fill="#ff5050"/>
<rect x="254.99" y="74.72" width="3.73" height="3.73" fill="#ff8888"/>
<rect x="258.42" y="74.72" width="3.73" height="3.73" fill="#ffafaf"/>
<rect x="261.85" y="74.72" width="3.73" height="3.73" fill="#ffcaca"/>
<rect x="265.28" y="74.72" width="3.73" height="3.73" fill="#ffdcdc"/>
<rect x="268.71" y="74.72" width="3.73" height="3.73" fill="#ffe8e8"/>
<rect x="272.14" y="74.72" width="3.73" height="3.73" fill="#fff0f0"/>
<rect x="275.57" y="74.72" width="3.73" height="3.73" fill="#fff6f6"/>
<rect x="279.01" y="74.72" width="3.73" height="3.73" fill="#fffbfb"/>
<rect x="282.44" y="74.72" width="3.73" height="3.73" fill="#fffefe"/>
<rect x="292.73" y="74.72" width="3.73" height="3.73" fill="#fffefe"/>
<rect x="296.16" y="74.72" width="3.73" height="3.73" fill="#fffbfb"/>
<rect x="299.59" y="74.72" width="3.73" height="3.73" fill="#fff6f6"/>
<rect x="303.02" y="74.72" width="3.73" height="3.73" fill="#fff0f0"/>
<rect x="306.46" y="74.72" width="3.73" height="3.73" fill="#ffe8e8"/>
<rect x="309.89" y="74.72" width="3.73" height="3.73" fill="#ffdcdc"/>
<rect x="313.32" y="74.72" width="3.73" height="3.73" fill="#ffcaca"/>
<rect x="316.75" y="74.72" width="3.73" height="3.73" fill="#ffafaf"/>
<rect x="320.18" y="74.72" width="3.73" height="3.73" fill="#ff8888"/>
<rect x="323.61" y="74.72" width="3.73" height="3.73" fill="#ff5050"/>
<rect x="327.04" y="74.72" width="3.73" height="3.73" fill="#ff0f0f"/>
<rect x="330.48" y="74.72" width="14.02" height="3.73" fill="#ff0000"/>
<rect x="234.4" y="78.15" width="14.02" height="3.73" fill="#ff0000"/>
<rect x="248.12" y="78.15" width="3.73" height="3.73" fill="#ff0f0f"/>
<rect x="251.56" y="78.15" width="3.73" height="3.73" fill="#ff5050"/>
<rect x="254.99" y="78.15" width="3.73" height="3.73" fill="#ff8888"/>
<rect x="258.42" y="78.15" width="3.73" height="3.73" fill="#ffafaf"/>
<rect x="261.85" y="78.15" width="3.73" height="3.73" fill="#ffcaca"/>
<rect x="265.28" y="78.15" width="3.73" height="3.73" fill="#ffdcdc"/>
<rect x="268.71" y="78.15" width="3.73" height="3.73" fill="#ffe8e8"/>
<rect x="272.14" y="78.15" width="3.73" height="3.73" fill="#fff0f0"/>
<rect x="275.57" y="78.15" width="3.73" height="3.73" fill="#fff6f6"/>
<rect x="279.01" y="78.15" width="3.73" height="3.73" fill="#fffbfb"/>
<rect x="282.44" y="78.15" width="3.73" height="3.73" fill="#fffefe"/>
<rect x="292.73" y="78.15" width="3.73" height="3.73" fill="#fffefe"/>
<rect x="296.16" y="78.15" width="3.73" height="3.73" fill="#fffbfb"/>
<rect x="299.59" y="78.15" width="3.73" height="3.73" fill="#fff6f6"/>
<rect x="303.02" y="78.15" width="3.73" height="3.73" fill="#fff0f0"/>
<rect x="306.46" y="78.15" width="3.73" height="3.73" fill="#ffe8e8"/>
<rect x="309.89" y="78.15" width="3.73" height="3.73" fill="#ffdcdc"/>
<rect x="313.32" y="78.15" width="3.73" height="3.73" fill="#ffcaca"/>
<rect x="316.75" y="78.15" width="3.73" height="3.73" fill="#ffafaf"/>
<rect x="320.18" y="78.15" width="3.73" height="3.73" fill="#ff8888"/>
<rect x="323.61" y="78.15" width="3.73" height="3.73" fill="#ff5050"/>
<rect x="327.04" y="78.15" width="3.73" height="3.73" fill="#ff0f0f"/>
<rect x="330.48" y="78.15" width="14.02" height="3.73" fill="#ff0000"/>
<rect x="234.4" y="81.58" width="14.02" height="3.73" fill="#ff0000"/>
<rect x="248.12" y="81.58" width="3.73" height="3.73" fill="#ff0f0f"/>
<rect x="251.56" y="81.58" width="3.73" height="3.73" fill="#ff5050"/>
<rect x="254.99" y="81.58" width="3.73" height="3.73" fill="#ff8888"/>
<rect x="258.42" y="81.58" width="3.73" height="3.73" fill="#ffafaf"/>
<rect x="261.85" y="81.58" width="3.73" height="3.73" fill="#ffcbcb"/>
<rect x="265.28" y="81.58" width="3.73" height="3.73" fill="#ffdede"/>
<rect x="268.71" y="81.58" width="3.73" height="3.73" fill="#ffebeb"/>
<rect x="272.14" y="81.58" width="3.73" height="3.73" fill="#fff3f3"/>
<rect x="275.57" y="81.58" width="3.73" height="3.73" fill="#fffafa"/>
<rect x="279.01" y="81.58" width="3.73" height="3.73" fill="#fffdfd"/>
<rect x="285.87" y="81.58" width="7.16" height="3.73" fill="#fefeff"/>
<rect x="296.16" y="81.58" width="3.73" height="3.73" fill="#fffdfd"/>
<rect x="299.59" y="81.58" width="3.73" height="3.73" fill="#fffafa"/>
<rect x="303.02" y="81.58" width="3.73" height="3.73" fill="#fff3f3"/>
<rect x="306.46" y="81.58" width="3.73" height="3.73" fill="#ffebeb"/>
<rect x="309.89" y="81.58" width="3.73" height="3.73" fill="#ffdede"/>
<rect x="313.32" y="81.58" width="3.73" height="3.73" fill="#ffcbcb"/>
<rect x="316.75" y="81.58" width="3.73" height="3.73" fill="#ffafaf"/>
<rect x="320.18" y="81.58" width="3.73" height="3.73" fill="#ff8888"/>
<rect x="323.61" y="81.58" width="3.73" height="3.73" fill="#ff5050"/>
<rect x="327.04" y="81.58" width="3.73" height="3.73" fill="#ff0f0f"/>
<rect x="330.48" y="81.58" width="14.02" height="3.73" fill="#ff0000"/>
<rect x="234.4" y="85.02" width="14.02" height="3.73" fill="#ff0000"/>
<rect x="248.12" y="85.02" width="3.73" height="3.73" fill="#ff1010"/>
<rect x="251.56" y="85.02" width="3.73" height="3.73" fill="#ff5656"/>
<rect x="254.99" y="85.02" width="3.73" height="3.73" fill="#ff9292"/>
<rect x="258.42" y="85.02" width="3.73" height="3.73" fill="#ffbbbb"/>
<rect x="261.85" y="85.02" width="3.73" height="3.73" fill="#ffd5d5"/>
<rect x="265.28" y="85.02" width="3.73" height="3.73" fill="#ffe5e5"/>
<rect x="268.71" y="85.02" width="3.73" height="3.73" fill="#fff0f0"/>
<rect x="272.14" y="85.02" width="3.73" height="3.73" fill="#fff9f9"/>
<rect x="275.57" y="85.02" width="3.73" height="3.73" fill="#fffdfd"/>
<rect x="282.44" y="85.02" width="3.73" height="3.73" fill="#fefeff"/>
<rect x="285.87" y="85.02" width="7.16" height="3.73" fill="#fdfdff"/>
<rect x="292.73" y="85.02" width="3.73" height="3.73" fill="#fefeff"/>
<rect x="299.59" y="85.02" width="3.73" height="3.73" fill="#fffdfd"/>
<rect x="303.02" y="85.02" width="3.73" height="3.73" fill="#fff9f9"/>
<rect x="306.46" y="85.02" width="3.73" height="3.73" fill="#fff0f0"/>
<rect x="309.89" y="85.02" width="3.73" height="3.73" fill="#ffe5e5"/>
<rect x="313.32" y="85.02" width="3.73" height="3.73" fill="#ffd5d5"/>
<rect x="316.75" y="85.02" width="3.73" height="3.73" fill="#ffbbbb"/>
<rect x="320.18" y="85.02" width="3.73" height="3.73" fill="#ff9292"/>
<rect x="323.61" y="85.02" width="3.73" height="3.73" fill="#ff5656"/>
<rect x="327.04" y="85.02" width="3.73" height="3.73" fill="#ff1010"/>
<rect x="330.48" y="85.02" width="14.02" height="3.73" fill="#ff0000"/>
<rect x="234.4" y="88.45" width="3.73" height="3.73" fill="#ff0000"/>
<rect x="237.83" y="88.45" width="3.73" height="3.73" fill="#ff0303"/>
<rect x="241.26" y="88.45" width="3.73" height="3.73" fill="#ff0d0d"/>
<rect x="244.69" y="88.45" width="3.73" height="3.73" fill="#ff1b1b"/>
<rect x="248.12" y="88.45" width="3.73" height="3.73" fill="#ff3737"/>
<rect x="251.56" y="88.45" width="3.73" height="3.73" fill="#ff7878"/>
<rect x="254.99" y="88.45" width="3.73" height="3.73" fill="#ffabab"/>
<rect x="258.42" y="88.45" width="3.73" height="3.73" fill="#ffcbcb"/>
<rect x="261.85" y="88.45" width="3.73" height="3.73" fill="#ffe0e0"/>
<rect x="265.28" y="88.45" width="3.73" height="3.73" fill="#ffeded"/>
<rect x="268.71" y="88.45" width="3.73" height="3.73" fill="#fff7f7"/>
<rect x="272.14" y="88.45" width="3.73" height="3.73" fill="#fffcfc"/>
<rect x="279.01" y="88.45" width="3.73" height="3.73" fill="#fdfdff"/>
<rect x="282.44" y="88.45" width="3.73" height="3.73" fill="#fbfbff"/>
<rect x="285.87" y="88.45" width="7.16" height="3.73" fill="#fafaff"/>
<rect x="292.73" y="88.45" width="3.73" height="3.73" fill="#fbfbff"/>
<rect x="296.16" y="88.45" width="3.73" height="3.73" fill="#fdfdff"/>
<rect x="303.02" y="88.45" width="3.73" height="3.73" fill="#fffcfc"/>
<rect x="306.46" y="88.45" width="3.73" height="3.73" fill="#fff7f7"/>
<rect x="309.89" y="88.45" width="3.73" height="3.73" fill="#ffeded"/>
<rect x="313.32" y="88.45" width="3.73" height="3.73" fill="#ffe0e0"/>
<rect x="316.75" y="88.45" width="3.73" height="3.73" fill="#ffcbcb"/>
<rect x="320.18" y="88.45" width="3.73" height="3.73" fill="#ffabab"/>
<rect x="323.61" y="88.45" width="3.73" height="3.73" fill="#ff7878"/>
<rect x="327.04" y="88.45" width="3.73" height="3.73" fill="#ff3737"/>
<rect x="330.48" y="88.45" width="3.73" height="3.73" fill="#ff1b1b"/>
<rect x="333.91" y="88.45" width="3.73" height="3.73" fill="#ff0d0d"/>
<rect x="337.34" y="88.45" width="3.73" height="3.73" fill="#ff0303"/>
<rect x="340.77" y="88.45" width="3.73" height="3.73" fill="#ff0000"/>
<rect x="234.4" y="91.89" width="3.73" height="3.73" fill="#ff2020"/>
<rect x="237.83" y="91.89" width="3.73" height="3.73" fill="#ff3030"/>
<rect x="241.26" y="91.89" width="3.73" height="3.73" fill="#ff4040"/>
<rect x="244.69" y="91.89" width="3.73" height="3.73" fill="#ff5050"/>
<rect x="248.12" y="91.89" width="3.73" height="3.73" fill="#ff6868"/>
<rect x="251.56" y="91.89" width="3.73" height="3.73" fill="#ff9a9a"/>
<rect x="254.99" y="91.89" width="3.73" height="3.73" fill="#ffc1c1"/>
<rect x="258.42" y="91.89" width="3.73" height="3.73" fill="#ffd9d9"/>
<rect x="261.85" y="91.89" width="3.73" height="3.73" fill="#ffe9e9"/>
<rect x="265.28" y="91.89" width="3.73" height="3.73" fill="#fff6f6"/>
<rect x="268.71" y="91.89" width="3.73" height="3.73" fill="#fffcfc"/>
<rect x="275.57" y="91.89" width="3.73" height="3.73" fill="#fbfbff"/>
<rect x="279.01" y="91.89" width="3.73" height="3.73" fill="#f9f9ff"/>
<rect x="282.44" y="91.89" width="14.02" height="3.73" fill="#f6f6ff"/>
<rect x="296.16" y="91.89" width="3.73" height="3.73" fill="#f9f9ff"/>
<rect x="299.59" y="91.89" width="3.73" height="3.73" fill="#fbfbff"/>
<rect x="306.46" y="91.89" width="3.73" height="3.73" fill="#fffcfc"/>
<rect x="309.89" y="91.89" width="3.73" height="3.73" fill="#fff6f6"/>
<rect x="313.32" y="91.89" width="3.73" height="3.73" fill="#ffe9e9"/>
<rect x="316.75" y="91.89" width="3.73" height="3.73" fill="#ffd9d9"/>
<rect x="320.18" y="91.89" width="3.73" height="3.73" fill="#ffc1c1"/>
<rect x="323.61" y="91.89" width="3.73" height="3.73" fill="#ff9a9a"/>
<rect x="327.04" y="91.89" width="3.73" height="3.73" fill="#ff6868"/>
<rect x="330.48" y="91.89" width="3.73" height="3.73" fill="#ff5050"/>
<rect x="333.91" y="91.89" width="3.73" height="3.73" fill="#ff4040"/>
<rect x="337.34" y="91.89" width="3.73" height="3.73" fill="#ff3030"/>
<rect x="340.77" y="91.89" width="3.73" height="3.73" fill="#ff2020"/>
<rect x="234.4" y="95.32" width="3.73" height="3.73" fill="#ff5555"/>
<rect x="237.83" y="95.32" width="3.73" height="3.73" fill="#ff6464"/>
<rect x="241.26" y="95.32" width="3.73" height="3.73" fill="#ff7171"/>
<rect x="244.69" y="95.32" width="3.73" height="3.73" fill="#ff7e7e"/>
<rect x="248.12" y="95.32" width="3.73" height="3.73" fill="#ff9090"/>
<rect x="251.56" y="95.32" width="3.73" height="3.73" fill="#ffb5b5"/>
<rect x="254.99" y="95.32" width="3.73" height="3.73" fill="#ffd2d2"/>
<rect x="258.42" y="95.32" width="3.73" height="3.73" fill="#ffe5e5"/>
<rect x="261.85" y="95.32" width="3.73" height="3.73" fill="#fff4f4"/>
<rect x="265.28" y="95.32" width="3.73" height="3.73" fill="#fffbfb"/>
<rect x="272.14" y="95.32" width="3.73" height="3.73" fill="#f9f9ff"/>
<rect x="275.57" y="95.32" width="3.73" height="3.73" fill="#f5f5ff"/>
<rect x="279.01" y="95.32" width="3.73" height="3.73" fill="#f1f1ff"/>
<rect x="282.44" y="95.32" width="14.02" height="3.73" fill="#f0f0ff"/>
<rect x="296.16" y="95.32" width="3.73" height="3.73" fill="#f1f1ff"/>
<rect x="299.59" y="95.32" width="3.73" height="3.73" fill="#f5f5ff"/>
<rect x="303.02" y="95.32" width="3.73" height="3.73" fill="#f9f9ff"/>
<rect x="309.89" y="95.32" width="3.73" height="3.73" fill="#fffbfb"/>
<rect x="313.32" y="95.32" width="3.73" height="3.73" fill="#fff4f4"/>
<rect x="316.75" y="95.32" width="3.73" height="3.73" fill="#ffe5e5"/>
<rect x="320.18" y="95.32" width="3.73" height="3.73" fill="#ffd2d2"/>
<rect x="323.61" y="95.32" width="3.73" height="3.73" fill="#ffb5b5"/>
<rect x="327.04" y="95.32" width="3.73" height="3.73" fill="#ff9090"/>
<rect x="330.48" y="95.32" width="3.73" height="3.73" fill="#ff7e7e"/>
<rect x="333.91" y="95.32" width="3.73" height="3.73" fill="#ff7171"/>
<rect x="337.34" y="95.32" width="3.73" height="3.73" fill="#ff6464"/>
<rect x="340.77" y="95.32" width="3.73" height="3.73" fill="#ff5555"/>
<rect x="234.4" y="98.76" width="3.73" height="3.73" fill="#ff8282"/>
<rect x="237.83" y="98.76" width="3.73" height="3.73" fill="#ff8d8d"/>
<rect x="241.26" y="98.76" width="3.73" height="3.73" fill="#ff9797"/>
<rect x="244.69" y="98.76" width="3.73" height="3.73" fill="#ffa1a1"/>
<rect x="248.12" y="98.76" width="3.73" height="3.73" fill="#ffaeae"/>
<rect x="251.56" y="98.76" width="3.73" height="3.73" fill="#ffcaca"/>
<rect x="254.99" y="98.76" width="3.73" height="3.73" fill="#ffe0e0"/>
<rect x="258.42" y="98.76" width="3.73" height="3.73" fill="#fff1f1"/>
<rect x="261.85" y="98.76" width="3.73" height="3.73" fill="#fffafa"/>
<rect x="268.71" y="98.76" width="3.73" height="3.73" fill="#f6f6ff"/>
<rect x="272.14" y="98.76" width="3.73" height="3.73" fill="#efefff"/>
<rect x="275.57" y="98.76" width="3.73" height="3.73" fill="#e8e8ff"/>
<rect x="279.01" y="98.76" width="20.89" height="3.73" fill="#e7e7ff"/>
<rect x="299.59" y="98.76" width="3.73" height="3.73" fill="#e8e8ff"/>
<rect x="303.02" y="98.76" width="3.73" height="3.73" fill="#efefff"/>
<rect x="306.46" y="98.76" width="3.73" height="3.73" fill="#f6f6ff"/>
<rect x="313.32" y="98.76" width="3.73" height="3.73" fill="#fffafa"/>
<rect x="316.75" y="98.76" width="3.73" height="3.73" fill="#fff1f1"/>
<rect x="320.18" y="98.76" width="3.73" height="3.73" fill="#ffe0e0"/>
<rect x="323.61" y="98.76" width="3.73" height="3.73" fill="#ffcaca"/>
<rect x="327.04" y="98.76" width="3.73" height="3.73" fill="#ffaeae"/>
<rect x="330.48" y="98.76" width="3.73" height="3.73" fill="#ffa1a1"/>
<rect x="333.91" y="98.76" width="3.73" height="3.73" fill="#ff9797"/>
<rect x="337.34" y="98.76" width="3.73" height="3.73" fill="#ff8d8d"/>
<rect x="340.77" y="98.76" width="3.73" height="3.73" fill="#ff8282"/>
<rect x="234.4" y="102.19" width="3.73" height="3.73" fill="#ffa4a4"/>
<rect x="237.83" y="102.19" width="3.73" height="3.73" fill="#ffacac"/>
<rect x="241.26" y="102.19" width="3.73" height="3.73" fill="#ffb4b4"/>
<rect x="244.69" y="102.19" width="3.73" height="3.73" fill="#ffbbbb"/>
<rect x="248.12" y="102.19" width="3.73" height="3.73" fill="#ffc5c5"/>
<rect x="251.56" y="102.19" width="3.73" height="3.73" fill="#ffdada"/>
<rect x="254.99" y="102.19" width="3.73" height="3.73" fill="#ffefef"/>
<rect x="258.42" y="102.19" width="3.73" height="3.73" fill="#fff9f9"/>
<rect x="265.28" y="102.19" width="3.73" height="3.73" fill="#f2f2ff"/>
<rect x="268.71" y="102.19" width="3.73" height="3.73" fill="#e5e5ff"/>
<rect x="272.14" y="102.19" width="3.73" height="3.73" fill="#dadaff"/>
<rect x="275.57" y="102.19" width="27.75" height="3.73" fill="#d8d8ff"/>
<rect x="303.02" y="102.19" width="3.73" height="3.73" fill="#dadaff"/>
<rect x="306.46" y="102.19" width="3.73" height="3.73" fill="#e5e5ff"/>
<rect x="309.89" y="102.19" width="3.73" height="3.73" fill="#f2f2ff"/>
<rect x="316.75" y="102.19" width="3.73" height="3.73" fill="#fff9f9"/>
<rect x="320.18" y="102.19" width="3.73" height="3.73" fill="#ffefef"/>
<rect x="323.61" y="102.19" width="3.73" height="3.73" fill="#ffdada"/>
<rect x="327.04" y="102.19" width="3.73" height="3.73" fill="#ffc5c5"/>
<rect x="330.48" y="102.19" width="3.73" height="3.73" fill="#ffbbbb"/>
<rect x="333.91" y="102.19" width="3.73" height="3.73" fill="#ffb4b4"/>
<rect x="337.34" y="102.19" width="3.73" height="3.73" fill="#ffacac"/>
<rect x="340.77" y="102.19" width="3.73" height="3.73" fill="#ffa4a4"/>
<rect x="234.4" y="105.62" width="3.73" height="3.73" fill="#ffbdbd"/>
<rect x="237.83" y="105.62" width="3.73" height="3.73" fill="#ffc3c3"/>
<rect x="241.26" y="105.62" width="3.73" height="3.73" fill="#ffc9c9"/>
<rect x="244.69" y="105.62" width="3.73" height="3.73" fill="#ffcece"/>
<rect x="248.12" y="105.62" width="3.73" height="3.73" fill="#ffd7d7"/>
<rect x="251.56" y="105.62" width="3.73" height="3.73" fill="#ffecec"/>
<rect x="254.99" y="105.62" width="3.73" height="3.73" fill="#fff8f8"/>
<rect x="261.85" y="105.62" width="3.73" height="3.73" fill="#f2f2ff"/>
<rect x="265.28" y="105.62" width="3.73" height="3.73" fill="#e0e0ff"/>
<rect x="268.71" y="105.62" width="3.73" height="3.73" fill="#c6c6ff"/>
<rect x="272.14" y="105.62" width="34.61" height="3.73" fill="#c1c1ff"/>
<rect x="306.46" y="105.62" width="3.73" height="3.73" fill="#c6c6ff"/>
<rect x="309.89" y="105.62" width="3.73" height="3.73" fill="#e0e0ff"/>
<rect x="313.32" y="105.62" width="3.73" height="3.73" fill="#f2f2ff"/>
<rect x="320.18" y="105.62" width="3.73" height="3.73" fill="#fff8f8"/>
<rect x="323.61" y="105.62" width="3.73" height="3.73" fill="#ffecec"/>
<rect x="327.04" y="105.62" width="3.73" height="3.73" fill="#ffd7d7"/>
<rect x="330.48" y="105.62" width="3.73" height="3.73" fill="#ffcece"/>
<rect x="333.91" y="105.62" width="3.73" height="3.73" fill="#ffc9c9"/>
<rect x="337.34" y="105.62" width="3.73" height="3.73" fill="#ffc3c3"/>
<rect x="340.77" y="105.62" width="3.73" height="3.73" fill="#ffbdbd"/>
<rect x="234.4" y="109.06" width="3.73" height="3.73" fill="#ffcfcf"/>
<rect x="237.83" y="109.06" width="3.73" height="3.73" fill="#ffd4d4"/>
<rect x="241.26" y="109.06" width="3.73" height="3.73" fill="#ffd8d8"/>
<rect x="244.69" y="109.06" width="3.73" height="3.73" fill="#ffdddd"/>
<rect x="248.12" y="109.06" width="3.73" height="3.73" fill="#ffeaea"/>
<rect x="251.56" y="109.06" width="3.73" height="3.73" fill="#fff7f7"/>
<rect x="258.42" y="109.06" width="3.73" height="3.73" fill="#f3f3ff"/>
<rect x="261.85" y="109.06" width="3.73" height="3.73" fill="#e1e1ff"/>
<rect x="265.28" y="109.06" width="3.73" height="3.73" fill="#c4c4ff"/>
<rect x="268.71" y="109.06" width="3.73" height="3.73" fill="#a8a8ff"/>
<rect x="272.14" y="109.06" width="34.61" height="3.73" fill="#9c9cff"/>
<rect x="306.46" y="109.06" width="3.73" height="3.73" fill="#a8a8ff"/>
<rect x="309.89" y="109.06" width="3.73" height="3.73" fill="#c4c4ff"/>
<rect x="313.32" y="109.06" width="3.73" height="3.73" fill="#e1e1ff"/>
<rect x="316.75" y="109.06" width="3.73" height="3.73" fill="#f3f3ff"/>
<rect x="323.61" y="109.06" width="3.73" height="3.73" fill="#fff7f7"/>
<rect x="327.04" y="109.06" width="3.73" height="3.73" fill="#ffeaea"/>
<rect x="330.48" y="109.06" width="3.73" height="3.73" fill="#ffdddd"/>
<rect x="333.91" y="109.06" width="3.73" height="3.73" fill="#ffd8d8"/>
<rect x="337.34" y="109.06" width="3.73" height="3.73" fill="#ffd4d4"/>
<rect x="340.77" y="109.06" width="3.73" height="3.73" fill="#ffcfcf"/>
<rect x="234.4" y="112.49" width="3.73" height="3.73" fill="#ffdcdc"/>
<rect x="237.83" y="112.49" width="3.73" height="3.73" fill="#ffe0e0"/>
<rect x="241.26" y="112.49" width="3.73" height="3.73" fill="#ffe4e4"/>
<rect x="244.69" y="112.49" width="3.73" height="3.73" fill="#ffeded"/>
<rect x="248.12" y="112.49" width="3.73" height="3.73" fill="#fff6f6"/>
<rect x="254.99" y="112.49" width="3.73" height="3.73" fill="#f5f5ff"/>
<rect x="258.42" y="112.49" width="3.73" height="3.73" fill="#e4e4ff"/>
<rect x="261.85" y="112.49" width="3.73" height="3.73" fill="#c8c8ff"/>
<rect x="265.28" y="112.49" width="3.73" height="3.73" fill="#ababff"/>
<rect x="268.71" y="112.49" width="3.73" height="3.73" fill="#8787ff"/>
<rect x="272.14" y="112.49" width="3.73" height="3.73" fill="#6767ff"/>
<rect x="275.57" y="112.49" width="27.75" height="3.73" fill="#6565ff"/>
<rect x="303.02" y="112.49" width="3.73" height="3.73" fill="#6767ff"/>
<rect x="306.46" y="112.49" width="3.73" height="3.73" fill="#8787ff"/>
<rect x="309.89" y="112.49" width="3.73" height="3.73" fill="#ababff"/>
<rect x="313.32" y="112.49" width="3.73" height="3.73" fill="#c8c8ff"/>
<rect x="316.75" y="112.49" width="3.73" height="3.73" fill="#e4e4ff"/>
<rect x="320.18" y="112.49" width="3.73" height="3.73" fill="#f5f5ff"/>
<rect x="327.04" y="112.49" width="3.73" height="3.73" fill="#fff6f6"/>
<rect x="330.48" y="112.49" width="3.73" height="3.73" fill="#ffeded"/>
<rect x="333.91" y="112.49" width="3.73" height="3.73" fill="#ffe4e4"/>
<rect x="337.34" y="112.49" width="3.73" height="3.73" fill="#ffe0e0"/>
<rect x="340.77" y="112.49" width="3.73" height="3.73" fill="#ffdcdc"/>
<rect x="234.4" y="115.93" width="3.73" height="3.73" fill="#ffe6e6"/>
<rect x="237.83" y="115.93" width="3.73" height="3.73" fill="#ffeaea"/>
<rect x="241.26" y="115.93" width="3.73" height="3.73" fill="#fff1f1"/>
<rect x="244.69" y="115.93" width="3.73" height="3.73" fill="#fff8f8"/>
<rect x="251.56" y="115.93" width="3.73" height="3.73" fill="#f6f6ff"/>
<rect x="254.99" y="115.93" width="3.73" height="3.73" fill="#e9e9ff"/>
<rect x="258.42" y="115.93" width="3.73" height="3.73" fill="#d1d1ff"/>
<rect x="261.85" y="115.93" width="3.73" height="3.73" fill="#b7b7ff"/>
<rect x="265.28" y="115.93" width="3.73" height="3.73" fill="#9595ff"/>
<rect x="268.71" y="115.93" width="3.73" height="3.73" fill="#6666ff"/>
<rect x="272.14" y="115.93" width="3.73" height="3.73" fill="#2f2fff"/>
<rect x="275.57" y="115.93" width="27.75" height="3.73" fill="#1b1bff"/>
<rect x="303.02" y="115.93" width="3.73" height="3.73" fill="#2f2fff"/>
<rect x="306.46" y="115.93" width="3.73" height="3.73" fill="#6666ff"/>
<rect x="309.89" y="115.93" width="3.73" height="3.73" fill="#9595ff"/>
<rect x="313.32" y="115.93" width="3.73" height="3.73" fill="#b7b7ff"/>
<rect x="316.75" y="115.93" width="3.73" height="3.73" fill="#d1d1ff"/>
<rect x="320.18" y="115.93" width="3.73" height="3.73" fill="#e9e9ff"/>
<rect x="323.61" y="115.93" width="3.73" height="3.73" fill="#f6f6ff"/>
<rect x="330.48" y="115.93" width="3.73" height="3.73" fill="#fff8f8"/>
<rect x="333.91" y="115.93" width="3.73" height="3.73" fill="#fff1f1"/>
<rect x="337.34" y="115.93" width="3.73" height="3.73" fill="#ffeaea"/>
<rect x="340.77" y="115.93" width="3.73" height="3.73" fill="#ffe6e6"/>
<rect x="234.4" y="119.36" width="3.73" height="3.73" fill="#ffeeee"/>
<rect x="237.83" y="119.36" width="3.73" height="3.73" fill="#fff4f4"/>
<rect x="241.26" y="119.36" width="3.73" height="3.73" fill="#fff9f9"/>
<rect x="248.12" y="119.36" width="3.73" height="3.73" fill="#f9f9ff"/>
<rect x="251.56" y="119.36" width="3.73" height="3.73" fill="#f1f1ff"/>
<rect x="254.99" y="119.36" width="3.73" height="3.73" fill="#e2e2ff"/>
<rect x="258.42" y="119.36" width="3.73" height="3.73" fill="#d1d1ff"/>
<rect x="261.85" y="119.36" width="3.73" height="3.73" fill="#bbbbff"/>
<rect x="265.28" y="119.36" width="3.73" height="3.73" fill="#9a9aff"/>
<rect x="268.71" y="119.36" width="3.73" height="3.73" fill="#6c6cff"/>
<rect x="272.14" y="119.36" width="3.73" height="3.73" fill="#2f2fff"/>
<rect x="275.57" y="119.36" width="3.73" height="3.73" fill="#0101ff"/>
<rect x="279.01" y="119.36" width="20.89" height="3.73" fill="#0000ff"/>
<rect x="299.59" y="119.36" width="3.73" height="3.73" fill="#0101ff"/>
<rect x="303.02" y="119.36" width="3.73" height="3.73" fill="#2f2fff"/>
<rect x="306.46" y="119.36" width="3.73" height="3.73" fill="#6c6cff"/>
<rect x="309.89" y="119.36" width="3.73" height="3.73" fill="#9a9aff"/>
<rect x="313.32" y="119.36" width="3.73" height="3.73" fill="#bbbbff"/>
<rect x="316.75" y="119.36" width="3.73" height="3.73" fill="#d1d1ff"/>
<rect x="320.18" y="119.36" width="3.73" height="3.73" fill="#e2e2ff"/>
<rect x="323.61" y="119.36" width="3.73" height="3.73" fill="#f1f1ff"/>
<rect x="327.04" y="119.36" width="3.73" height="3.73" fill="#f9f9ff"/>
<rect x="333.91" y="119.36" width="3.73" height="3.73" fill="#fff9f9"/>
<rect x="337.34" y="119.36" width="3.73" height="3.73" fill="#fff4f4"/>
<rect x="340.77" y="119.36" width="3.73" height="3.73" fill="#ffeeee"/>
<rect x="234.4" y="122.8" width="3.73" height="3.73" fill="#fff6f6"/>
<rect x="237.83" y="122.8" width="3.73" height="3.73" fill="#fffafa"/>
<rect x="244.69" y="122.8" width="3.73" height="3.73" fill="#fcfcff"/>
<rect x="248.12" y="122.8" width="3.73" height="3.73" fill="#f7f7ff"/>
<rect x="251.56" y="122.8" width="3.73" height="3.73" fill="#eeeeff"/>
<rect x="254.99" y="122.8" width="3.73" height="3.73" fill="#e5e5ff"/>
<rect x="258.42" y="122.8" width="3.73" height="3.73" fill="#d8d8ff"/>
<rect x="261.85" y="122.8" width="3.73" height="3.73" fill="#c5c5ff"/>
<rect x="265.28" y="122.8" width="3.73" height="3.73" fill="#a9a9ff"/>
<rect x="268.71" y="122.8" width="3.73" height="3.73" fill="#8181ff"/>
<rect x="272.14" y="122.8" width="3.73" height="3.73" fill="#4a4aff"/>
<rect x="275.57" y="122.8" width="3.73" height="3.73" fill="#0e0eff"/>
<rect x="279.01" y="122.8" width="20.89" height="3.73" fill="#0000ff"/>
<rect x="299.59" y="122.8" width="3.73" height="3.73" fill="#0e0eff"/>
<rect x="303.02" y="122.8" width="3.73" height="3.73" fill="#4a4aff"/>
<rect x="306.46" y="122.8" width="3.73" height="3.73" fill="#8181ff"/>
<rect x="309.89" y="122.8" width="3.73" height="3.73" fill="#a9a9ff"/>
<rect x="313.32" y="122.8" width="3.73" height="3.73" fill="#c5c5ff"/>
<rect x="316.75" y="122.8" width="3.73" height="3.73" fill="#d8d8ff"/>
<rect x="320.18" y="122.8" width="3.73" height="3.73" fill="#e5e5ff"/>
<rect x="323.61" y="122.8" width="3.73" height="3.73" fill="#eeeeff"/>
<rect x="327.04" y="122.8" width="3.73" height="3.73" fill="#f7f7ff"/>
<rect x="330.48" y="122.8" width="3.73" height="3.73" fill="#fcfcff"/>
<rect x="337.34" y="122.8" width="3.73" height="3.73" fill="#fffafa"/>
<rect x="340.77" y="122.8" width="3.73" height="3.73" fill="#fff6f6"/>
<rect x="234.4" y="126.23" width="3.73" height="3.73" fill="#fffbfb"/>
<rect x="241.26" y="126.23" width="3.73" height="3.73" fill="#fdfdff"/>
<rect x="244.69" y="126.23" width="3.73" height="3.73" fill="#fafaff"/>
<rect x="248.12" y="126.23" width="3.73" height="3.73" fill="#f6f6ff"/>
<rect x="251.56" y="126.23" width="3.73" height="3.73" fill="#f0f0ff"/>
<rect x="254.99" y="126.23" width="3.73" height="3.73" fill="#e9e9ff"/>
<rect x="258.42" y="126.23" width="3.73" height="3.73" fill="#dedeff"/>
<rect x="261.85" y="126.23" width="3.73" height="3.73" fill="#ceceff"/>
<rect x="265.28" y="126.23" width="3.73" height="3.73" fill="#b6b6ff"/>
<rect x="268.71" y="126.23" width="3.73" height="3.73" fill="#9494ff"/>
<rect x="272.14" y="126.23" width="3.73" height="3.73" fill="#6363ff"/>
<rect x="275.57" y="126.23" width="3.73" height="3.73" fill="#2525ff"/>
<rect x="279.01" y="126.23" width="20.89" height="3.73" fill="#0000ff"/>
<rect x="299.59" y="126.23" width="3.73" height="3.73" fill="#2525ff"/>
<rect x="303.02" y="126.23" width="3.73" height="3.73" fill="#6363ff"/>
<rect x="306.46" y="126.23" width="3.73" height="3.73" fill="#9494ff"/>
<rect x="309.89" y="126.23" width="3.73" height="3.73" fill="#b6b6ff"/>
<rect x="313.32" y="126.23" width="3.73" height="3.73" fill="#ceceff"/>
<rect x="316.75" y="126.23" width="3.73" height="3.73" fill="#dedeff"/>
<rect x="320.18" y="126.23" width="3.73" height="3.73" fill="#e9e9ff"/>
<rect x="323.61" y="126.23" width="3.73" height="3.73" fill="#f0f0ff"/>
<rect x="327.04" y="126.23" width="3.73" height="3.73" fill="#f6f6ff"/>
<rect x="330.48" y="126.23" width="3.73" height="3.73" fill="#fafaff"/>
<rect x="333.91" y="126.23" width="3.73" height="3.73" fill="#fdfdff"/>
<rect x="340.77" y="126.23" width="3.73" height="3.73" fill="#fffbfb"/>
<rect x="237.83" y="129.67" width="3.73" height="3.73" fill="#fefeff"/>
<rect x="241.26" y="129.67" width="3.73" height="3.73" fill="#fcfcff"/>
<rect x="244.69" y="129.67" width="3.73" height="3.73" fill="#fafaff"/>
<rect x="248.12" y="129.67" width="3.73" height="3.73" fill="#f7f7ff"/>
<rect x="251.56" y="129.67" width="3.73" height="3.73" fill="#f2f2ff"/>
<rect x="254.99" y="129.67" width="3.73" height="3.73" fill="#ececff"/>
<rect x="258.42" y="129.67" width="3.73" height="3.73" fill="#e3e3ff"/>
<rect x="261.85" y="129.67" width="3.73" height="3.73" fill="#d5d5ff"/>
<rect x="265.28" y="129.67" width="3.73" height="3.73" fill="#c1c1ff"/>
<rect x="268.71" y="129.67" width="3.73" height="3.73" fill="#a4a4ff"/>
<rect x="272.14" y="129.67" width="3.73" height="3.73" fill="#7979ff"/>
<rect x="275.57" y="129.67" width="3.73" height="3.73" fill="#4040ff"/>
<rect x="279.01" y="129.67" width="3.73" height="3.73" fill="#0707ff"/>
<rect x="282.44" y="129.67" width="14.02" height="3.73" fill="#0000ff"/>
<rect x="296.16" y="129.67" width="3.73" height="3.73" fill="#0707ff"/>
<rect x="299.59" y="129.67" width="3.73" height="3.73" fill="#4040ff"/>
<rect x="303.02" y="129.67" width="3.73" height="3.73" fill="#7979ff"/>
<rect x="306.46" y="129.67" width="3.73" height="3.73" fill="#a4a4ff"/>
<rect x="309.89" y="129.67" width="3.73" height="3.73" fill="#c1c1ff"/>
<rect x="313.32" y="129.67" width="3.73" height="3.73" fill="#d5d5ff"/>
<rect x="316.75" y="129.67" width="3.73" height="3.73" fill="#e3e3ff"/>
<rect x="320.18" y="129.67" width="3.73" height="3.73" fill="#ececff"/>
<rect x="323.61" y="129.67" width="3.73" height="3.73" fill="#f2f2ff"/>
<rect x="327.04" y="129.67" width="3.73" height="3.73" fill="#f7f7ff"/>
<rect x="330.48" y="129.67" width="3.73" height="3.73" fill="#fafaff"/>
<rect x="333.91" y="129.67" width="3.73" height="3.73" fill="#fcfcff"/>
<rect x="337.34" y="129.67" width="3.73" height="3.73" fill="#fefeff"/>
</g>
<defs><linearGradient id="cb" x1="0" y1="0" x2="0" y2="1"><stop offset="0" stop-color="#ff0000"/><stop offset="0.5" stop-color="#ffffff"/><stop offset="1" stop-color="#0000ff"/></linearGradient></defs>
<rect x="346.8" y="23.2" width="5.9" height="109.9" fill="url(#cb)" stroke="#555" stroke-width="0.6"/>
<path d="M346.8 78.1H352.7" stroke="#000" stroke-width="0.9"/>
<g stroke="#222" stroke-width="0.8" fill="none">
<rect x="234.4" y="23.2" width="109.8" height="109.9"/>
<path d="M261.85 23.2v7.8M261.85 133.1v-7.8M234.4 50.67h7.8M344.2 50.67h-7.8"/>
<path d="M289.3 23.2v7.8M289.3 133.1v-7.8M234.4 78.15h7.8M344.2 78.15h-7.8"/>
<path d="M316.75 23.2v7.8M316.75 133.1v-7.8M234.4 105.62h7.8M344.2 105.62h-7.8"/>
</g>
<text transform="translate(216.7 30.6) scale(1 1)" font-family="'Liberation Serif', serif" font-size="20.8" text-anchor="end" fill="#000">1</text>
<text transform="translate(216.7 58.07) scale(1 1)" font-family="'Liberation Serif', serif" font-size="20.8" text-anchor="end" fill="#000">0.5</text>
<text transform="translate(216.7 85.55) scale(1 1)" font-family="'Liberation Serif', serif" font-size="20.8" text-anchor="end" fill="#000">0</text>
<text transform="translate(216.7 113.03) scale(1 1)" font-family="'Liberation Serif', serif" font-size="20.8" text-anchor="end" fill="#000">-0.5</text>
<text transform="translate(216.7 140.5) scale(1 1)" font-family="'Liberation Serif', serif" font-size="20.8" text-anchor="end" fill="#000">-1</text>
<text transform="translate(233.2 169.9) scale(1 1)" font-family="'Liberation Serif', serif" font-size="20.8" text-anchor="middle" fill="#000">-1</text>
<text transform="translate(262.3 169.9) scale(1 1)" font-family="'Liberation Serif', serif" font-size="20.8" text-anchor="middle" fill="#000">-0.5</text>
<text transform="translate(291.7 169.9) scale(1 1)" font-family="'Liberation Serif', serif" font-size="20.8" text-anchor="middle" fill="#000">0</text>
<text transform="translate(319.5 169.9) scale(1 1)" font-family="'Liberation Serif', serif" font-size="20.8" text-anchor="middle" fill="#000">0.5</text>
<text transform="translate(346.8 169.9) scale(1 1)" font-family="'Liberation Serif', serif" font-size="20.8" text-anchor="middle" fill="#000">1</text>
<text transform="translate(370.4 30.6) scale(1.1 1)" font-family="'Liberation Serif', serif" font-size="20" text-anchor="middle" fill="#000">+</text>
<text transform="translate(370.2 85.7) scale(1 1)" font-family="'Liberation Serif', serif" font-size="20.8" text-anchor="middle" fill="#000">0</text>
<path d="M364.9 135.4H375.2" stroke="#000" stroke-width="1.2"/>
<text transform="translate(265.2 206) scale(1 1)" font-family="'Liberation Serif', serif" font-size="19.5" text-anchor="start" font-style="italic" class="lt" fill="#2a2a2a">k</text>
<text transform="translate(274 208.4) scale(1.05 1)" font-family="'Liberation Serif', serif" font-size="16" text-anchor="start" font-style="italic" class="lt" fill="#2a2a2a">x</text>
<path d="M285.2 208.4L292.9 192" stroke="#2a2a2a" stroke-width="1"/>
<text transform="translate(294 206) scale(1 1)" font-family="'Liberation Serif', serif" font-size="19.5" text-anchor="start" font-style="italic" class="lt" fill="#2a2a2a">π</text>
<g transform="translate(172.7 104.6) rotate(-90)">
<text transform="translate(0 0) scale(1 1)" font-family="'Liberation Serif', serif" font-size="19.5" text-anchor="start" font-style="italic" class="lt" fill="#2a2a2a">k</text>
<text transform="translate(10.2 3.6) scale(1.05 1)" font-family="'Liberation Serif', serif" font-size="14.5" text-anchor="start" font-style="italic" class="lt" fill="#2a2a2a">y</text>
<path d="M19 5.7L29.6 -13.8" stroke="#2a2a2a" stroke-width="1"/>
<text transform="translate(30.2 0) scale(1 1)" font-family="'Liberation Serif', serif" font-size="19.5" text-anchor="start" font-style="italic" class="lt" fill="#2a2a2a">π</text>
</g>
<polyline points="109.6,258.3 117.2,271.4 124.9,284.9 132.5,295.5 140.1,303.7 155.4,317.2 174.4,318.5 193.5,319.3 212.6,320.6 231.7,323.5 250.8,326.2 269.9,330.2 308,341.5 346.2,353.5 384.4,362.3 422.55,367.4 460.7,370 498.9,370.7 537.1,370.9 575.2,370.9 613.4,370.9" fill="none" stroke="#ff0000" stroke-width="1.65" stroke-linejoin="round"/>
<rect x="105.65" y="254.35" width="7.9" height="7.9" fill="none" stroke="#ff0000" stroke-width="1.6"/>
<rect x="113.25" y="267.45" width="7.9" height="7.9" fill="none" stroke="#ff0000" stroke-width="1.6"/>
<rect x="120.95" y="280.95" width="7.9" height="7.9" fill="none" stroke="#ff0000" stroke-width="1.6"/>
<rect x="128.55" y="291.55" width="7.9" height="7.9" fill="none" stroke="#ff0000" stroke-width="1.6"/>
<rect x="136.15" y="299.75" width="7.9" height="7.9" fill="none" stroke="#ff0000" stroke-width="1.6"/>
<rect x="151.45" y="313.25" width="7.9" height="7.9" fill="none" stroke="#ff0000" stroke-width="1.6"/>
<rect x="170.45" y="314.55" width="7.9" height="7.9" fill="none" stroke="#ff0000" stroke-width="1.6"/>
<rect x="189.55" y="315.35" width="7.9" height="7.9" fill="none" stroke="#ff0000" stroke-width="1.6"/>
<rect x="208.65" y="316.65" width="7.9" height="7.9" fill="none" stroke="#ff0000" stroke-width="1.6"/>
<rect x="227.75" y="319.55" width="7.9" height="7.9" fill="none" stroke="#ff0000" stroke-width="1.6"/>
<rect x="246.85" y="322.25" width="7.9" height="7.9" fill="none" stroke="#ff0000" stroke-width="1.6"/>
<rect x="265.95" y="326.25" width="7.9" height="7.9" fill="none" stroke="#ff0000" stroke-width="1.6"/>
<rect x="304.05" y="337.55" width="7.9" height="7.9" fill="none" stroke="#ff0000" stroke-width="1.6"/>
<rect x="342.25" y="349.55" width="7.9" height="7.9" fill="none" stroke="#ff0000" stroke-width="1.6"/>
<rect x="380.45" y="358.35" width="7.9" height="7.9" fill="none" stroke="#ff0000" stroke-width="1.6"/>
<rect x="418.6" y="363.45" width="7.9" height="7.9" fill="none" stroke="#ff0000" stroke-width="1.6"/>
<rect x="456.75" y="366.05" width="7.9" height="7.9" fill="none" stroke="#ff0000" stroke-width="1.6"/>
<rect x="494.95" y="366.75" width="7.9" height="7.9" fill="none" stroke="#ff0000" stroke-width="1.6"/>
<rect x="533.15" y="366.95" width="7.9" height="7.9" fill="none" stroke="#ff0000" stroke-width="1.6"/>
<rect x="571.25" y="366.95" width="7.9" height="7.9" fill="none" stroke="#ff0000" stroke-width="1.6"/>
<rect x="609.45" y="366.95" width="7.9" height="7.9" fill="none" stroke="#ff0000" stroke-width="1.6"/>
<polyline points="109.6,229.4 117.2,241.9 124.9,254.4 132.5,266.2 140.1,275.7 155.4,297.6 174.4,316.4 193.5,332.3 212.6,345.3 231.7,354.4 250.8,360 269.9,364.5 308,369 346.2,370.4 384.4,370.9 422.55,370.9 460.7,370.9 498.9,370.9 537.1,370.9 575.2,370.9 613.4,370.9" fill="none" stroke="#00ff00" stroke-width="1.65" stroke-linejoin="round"/>
<polygon points="109.6,224.2 105.1,232 114.1,232" fill="none" stroke="#00ff00" stroke-width="1.6" stroke-linejoin="miter"/>
<polygon points="117.2,236.7 112.7,244.5 121.7,244.5" fill="none" stroke="#00ff00" stroke-width="1.6" stroke-linejoin="miter"/>
<polygon points="124.9,249.2 120.4,257 129.4,257" fill="none" stroke="#00ff00" stroke-width="1.6" stroke-linejoin="miter"/>
<polygon points="132.5,261 128,268.8 137,268.8" fill="none" stroke="#00ff00" stroke-width="1.6" stroke-linejoin="miter"/>
<polygon points="140.1,270.5 135.6,278.3 144.6,278.3" fill="none" stroke="#00ff00" stroke-width="1.6" stroke-linejoin="miter"/>
<polygon points="155.4,292.4 150.9,300.2 159.9,300.2" fill="none" stroke="#00ff00" stroke-width="1.6" stroke-linejoin="miter"/>
<polygon points="174.4,311.2 169.9,319 178.9,319" fill="none" stroke="#00ff00" stroke-width="1.6" stroke-linejoin="miter"/>
<polygon points="193.5,327.1 189,334.9 198,334.9" fill="none" stroke="#00ff00" stroke-width="1.6" stroke-linejoin="miter"/>
<polygon points="212.6,340.1 208.1,347.9 217.1,347.9" fill="none" stroke="#00ff00" stroke-width="1.6" stroke-linejoin="miter"/>
<polygon points="231.7,349.2 227.2,357 236.2,357" fill="none" stroke="#00ff00" stroke-width="1.6" stroke-linejoin="miter"/>
<polygon points="250.8,354.8 246.3,362.6 255.3,362.6" fill="none" stroke="#00ff00" stroke-width="1.6" stroke-linejoin="miter"/>
<polygon points="269.9,359.3 265.4,367.1 274.4,367.1" fill="none" stroke="#00ff00" stroke-width="1.6" stroke-linejoin="miter"/>
<polygon points="308,363.8 303.5,371.6 312.5,371.6" fill="none" stroke="#00ff00" stroke-width="1.6" stroke-linejoin="miter"/>
<polygon points="346.2,365.2 341.7,373 350.7,373" fill="none" stroke="#00ff00" stroke-width="1.6" stroke-linejoin="miter"/>
<polygon points="384.4,365.7 379.9,373.5 388.9,373.5" fill="none" stroke="#00ff00" stroke-width="1.6" stroke-linejoin="miter"/>
<polygon points="422.55,365.7 418.05,373.5 427.05,373.5" fill="none" stroke="#00ff00" stroke-width="1.6" stroke-linejoin="miter"/>
<polygon points="460.7,365.7 456.2,373.5 465.2,373.5" fill="none" stroke="#00ff00" stroke-width="1.6" stroke-linejoin="miter"/>
<polygon points="498.9,365.7 494.4,373.5 503.4,373.5" fill="none" stroke="#00ff00" stroke-width="1.6" stroke-linejoin="miter"/>
<polygon points="537.1,365.7 532.6,373.5 541.6,373.5" fill="none" stroke="#00ff00" stroke-width="1.6" stroke-linejoin="miter"/>
<polygon points="575.2,365.7 570.7,373.5 579.7,373.5" fill="none" stroke="#00ff00" stroke-width="1.6" stroke-linejoin="miter"/>
<polygon points="613.4,365.7 608.9,373.5 617.9,373.5" fill="none" stroke="#00ff00" stroke-width="1.6" stroke-linejoin="miter"/>
<polyline points="109.6,7.1 117.2,27.2 124.9,47 132.5,66.2 140.1,83.9 155.4,125.6 174.4,169.7 193.5,212.9 212.6,250 231.7,281.7 250.8,306.8 269.9,325 308,351.3 346.2,363.9 384.4,369.2 422.55,370.5 460.7,370.9 498.9,370.9 537.1,370.9 575.2,370.9 613.4,370.9" fill="none" stroke="#0000ff" stroke-width="1.65" stroke-linejoin="round"/>
<circle cx="109.6" cy="7.1" r="4" fill="none" stroke="#0000ff" stroke-width="1.6"/>
<circle cx="117.2" cy="27.2" r="4" fill="none" stroke="#0000ff" stroke-width="1.6"/>
<circle cx="124.9" cy="47" r="4" fill="none" stroke="#0000ff" stroke-width="1.6"/>
<circle cx="132.5" cy="66.2" r="4" fill="none" stroke="#0000ff" stroke-width="1.6"/>
<circle cx="140.1" cy="83.9" r="4" fill="none" stroke="#0000ff" stroke-width="1.6"/>
<circle cx="155.4" cy="125.6" r="4" fill="none" stroke="#0000ff" stroke-width="1.6"/>
<circle cx="174.4" cy="169.7" r="4" fill="none" stroke="#0000ff" stroke-width="1.6"/>
<circle cx="193.5" cy="212.9" r="4" fill="none" stroke="#0000ff" stroke-width="1.6"/>
<circle cx="212.6" cy="250" r="4" fill="none" stroke="#0000ff" stroke-width="1.6"/>
<circle cx="231.7" cy="281.7" r="4" fill="none" stroke="#0000ff" stroke-width="1.6"/>
<circle cx="250.8" cy="306.8" r="4" fill="none" stroke="#0000ff" stroke-width="1.6"/>
<circle cx="269.9" cy="325" r="4" fill="none" stroke="#0000ff" stroke-width="1.6"/>
<circle cx="308" cy="351.3" r="4" fill="none" stroke="#0000ff" stroke-width="1.6"/>
<circle cx="346.2" cy="363.9" r="4" fill="none" stroke="#0000ff" stroke-width="1.6"/>
<circle cx="384.4" cy="369.2" r="4" fill="none" stroke="#0000ff" stroke-width="1.6"/>
<circle cx="422.55" cy="370.5" r="4" fill="none" stroke="#0000ff" stroke-width="1.6"/>
<circle cx="460.7" cy="370.9" r="4" fill="none" stroke="#0000ff" stroke-width="1.6"/>
<circle cx="498.9" cy="370.9" r="4" fill="none" stroke="#0000ff" stroke-width="1.6"/>
<circle cx="537.1" cy="370.9" r="4" fill="none" stroke="#0000ff" stroke-width="1.6"/>
<circle cx="575.2" cy="370.9" r="4" fill="none" stroke="#0000ff" stroke-width="1.6"/>
<circle cx="613.4" cy="370.9" r="4" fill="none" stroke="#0000ff" stroke-width="1.6"/>
<polyline points="109.6,258.3 117.2,271.4 124.9,284.9 132.5,295.5 140.1,303.7 155.4,326.2 174.4,339 193.5,355.5 212.6,347 231.7,351 250.8,354.6 269.9,357.4 308,363.3 346.2,367.3 384.4,369.5 422.55,370.5 460.7,370.9 498.9,370.9 537.1,370.9 575.2,370.9 613.4,370.9" fill="none" stroke="#00ffff" stroke-width="1.65" stroke-linejoin="round"/>
<polygon points="109.6,253.4 113.9,258.3 109.6,263.2 105.3,258.3" fill="none" stroke="#00ffff" stroke-width="1.6"/>
<polygon points="117.2,266.5 121.5,271.4 117.2,276.3 112.9,271.4" fill="none" stroke="#00ffff" stroke-width="1.6"/>
<polygon points="124.9,280 129.2,284.9 124.9,289.8 120.6,284.9" fill="none" stroke="#00ffff" stroke-width="1.6"/>
<polygon points="132.5,290.6 136.8,295.5 132.5,300.4 128.2,295.5" fill="none" stroke="#00ffff" stroke-width="1.6"/>
<polygon points="140.1,298.8 144.4,303.7 140.1,308.6 135.8,303.7" fill="none" stroke="#00ffff" stroke-width="1.6"/>
<polygon points="155.4,321.3 159.7,326.2 155.4,331.1 151.1,326.2" fill="none" stroke="#00ffff" stroke-width="1.6"/>
<polygon points="174.4,334.1 178.7,339 174.4,343.9 170.1,339" fill="none" stroke="#00ffff" stroke-width="1.6"/>
<polygon points="193.5,350.6 197.8,355.5 193.5,360.4 189.2,355.5" fill="none" stroke="#00ffff" stroke-width="1.6"/>
<polygon points="212.6,342.1 216.9,347 212.6,351.9 208.3,347" fill="none" stroke="#00ffff" stroke-width="1.6"/>
<polygon points="231.7,346.1 236,351 231.7,355.9 227.4,351" fill="none" stroke="#00ffff" stroke-width="1.6"/>
<polygon points="250.8,349.7 255.1,354.6 250.8,359.5 246.5,354.6" fill="none" stroke="#00ffff" stroke-width="1.6"/>
<polygon points="269.9,352.5 274.2,357.4 269.9,362.3 265.6,357.4" fill="none" stroke="#00ffff" stroke-width="1.6"/>
<polygon points="308,358.4 312.3,363.3 308,368.2 303.7,363.3" fill="none" stroke="#00ffff" stroke-width="1.6"/>
<polygon points="346.2,362.4 350.5,367.3 346.2,372.2 341.9,367.3" fill="none" stroke="#00ffff" stroke-width="1.6"/>
<polygon points="384.4,364.6 388.7,369.5 384.4,374.4 380.1,369.5" fill="none" stroke="#00ffff" stroke-width="1.6"/>
<polygon points="422.55,365.6 426.85,370.5 422.55,375.4 418.25,370.5" fill="none" stroke="#00ffff" stroke-width="1.6"/>
<polygon points="460.7,366 465,370.9 460.7,375.8 456.4,370.9" fill="none" stroke="#00ffff" stroke-width="1.6"/>
<polygon points="498.9,366 503.2,370.9 498.9,375.8 494.6,370.9" fill="none" stroke="#00ffff" stroke-width="1.6"/>
<polygon points="537.1,366 541.4,370.9 537.1,375.8 532.8,370.9" fill="none" stroke="#00ffff" stroke-width="1.6"/>
<polygon points="575.2,366 579.5,370.9 575.2,375.8 570.9,370.9" fill="none" stroke="#00ffff" stroke-width="1.6"/>
<polygon points="613.4,366 617.7,370.9 613.4,375.8 609.1,370.9" fill="none" stroke="#00ffff" stroke-width="1.6"/>
<polyline points="109.6,210.3 117.2,220.5 124.9,230.2 132.5,239.9 140.1,247 155.4,265.7 174.4,280.5 193.5,294 212.6,302.9 231.7,312.7 250.8,320.1 269.9,326.1 308,339.3 346.2,352.6 384.4,362.5 422.55,367.5 460.7,370 498.9,370.7 537.1,370.9 575.2,370.9 613.4,370.9" fill="none" stroke="#ff00ff" stroke-width="1.65" stroke-linejoin="round"/>
<polygon points="109.6,215.5 105.1,207.7 114.1,207.7" fill="none" stroke="#ff00ff" stroke-width="1.6" stroke-linejoin="miter"/>
<polygon points="117.2,225.7 112.7,217.9 121.7,217.9" fill="none" stroke="#ff00ff" stroke-width="1.6" stroke-linejoin="miter"/>
<polygon points="124.9,235.4 120.4,227.6 129.4,227.6" fill="none" stroke="#ff00ff" stroke-width="1.6" stroke-linejoin="miter"/>
<polygon points="132.5,245.1 128,237.3 137,237.3" fill="none" stroke="#ff00ff" stroke-width="1.6" stroke-linejoin="miter"/>
<polygon points="140.1,252.2 135.6,244.4 144.6,244.4" fill="none" stroke="#ff00ff" stroke-width="1.6" stroke-linejoin="miter"/>
<polygon points="155.4,270.9 150.9,263.1 159.9,263.1" fill="none" stroke="#ff00ff" stroke-width="1.6" stroke-linejoin="miter"/>
<polygon points="174.4,285.7 169.9,277.9 178.9,277.9" fill="none" stroke="#ff00ff" stroke-width="1.6" stroke-linejoin="miter"/>
<polygon points="193.5,299.2 189,291.4 198,291.4" fill="none" stroke="#ff00ff" stroke-width="1.6" stroke-linejoin="miter"/>
<polygon points="212.6,308.1 208.1,300.3 217.1,300.3" fill="none" stroke="#ff00ff" stroke-width="1.6" stroke-linejoin="miter"/>
<polygon points="231.7,317.9 227.2,310.1 236.2,310.1" fill="none" stroke="#ff00ff" stroke-width="1.6" stroke-linejoin="miter"/>
<polygon points="250.8,325.3 246.3,317.5 255.3,317.5" fill="none" stroke="#ff00ff" stroke-width="1.6" stroke-linejoin="miter"/>
<polygon points="269.9,331.3 265.4,323.5 274.4,323.5" fill="none" stroke="#ff00ff" stroke-width="1.6" stroke-linejoin="miter"/>
<polygon points="308,344.5 303.5,336.7 312.5,336.7" fill="none" stroke="#ff00ff" stroke-width="1.6" stroke-linejoin="miter"/>
<polygon points="346.2,357.8 341.7,350 350.7,350" fill="none" stroke="#ff00ff" stroke-width="1.6" stroke-linejoin="miter"/>
<polygon points="384.4,367.7 379.9,359.9 388.9,359.9" fill="none" stroke="#ff00ff" stroke-width="1.6" stroke-linejoin="miter"/>
<polygon points="422.55,372.7 418.05,364.9 427.05,364.9" fill="none" stroke="#ff00ff" stroke-width="1.6" stroke-linejoin="miter"/>
<polygon points="460.7,375.2 456.2,367.4 465.2,367.4" fill="none" stroke="#ff00ff" stroke-width="1.6" stroke-linejoin="miter"/>
<polygon points="498.9,375.9 494.4,368.1 503.4,368.1" fill="none" stroke="#ff00ff" stroke-width="1.6" stroke-linejoin="miter"/>
<polygon points="537.1,376.1 532.6,368.3 541.6,368.3" fill="none" stroke="#ff00ff" stroke-width="1.6" stroke-linejoin="miter"/>
<polygon points="575.2,376.1 570.7,368.3 579.7,368.3" fill="none" stroke="#ff00ff" stroke-width="1.6" stroke-linejoin="miter"/>
<polygon points="613.4,376.1 608.9,368.3 617.9,368.3" fill="none" stroke="#ff00ff" stroke-width="1.6" stroke-linejoin="miter"/>
<polyline points="109.6,277.1 117.2,278.8 124.9,280.3 132.5,281.3 140.1,281.5 155.4,282.8 174.4,283.6 193.5,285.7 212.6,285.5 231.7,288 250.8,289.7 269.9,291 308,298.5 346.2,313.2 384.4,333.3 422.55,351.2 460.7,363.6 498.9,369.2 537.1,370.6 575.2,370.9 613.4,370.9" fill="none" stroke="#ff0000" stroke-width="1.65" stroke-linejoin="round"/>
<rect x="105.25" y="272.75" width="8.7" height="8.7" fill="#ff0000"/>
<rect x="112.85" y="274.45" width="8.7" height="8.7" fill="#ff0000"/>
<rect x="120.55" y="275.95" width="8.7" height="8.7" fill="#ff0000"/>
<rect x="128.15" y="276.95" width="8.7" height="8.7" fill="#ff0000"/>
<rect x="135.75" y="277.15" width="8.7" height="8.7" fill="#ff0000"/>
<rect x="151.05" y="278.45" width="8.7" height="8.7" fill="#ff0000"/>
<rect x="170.05" y="279.25" width="8.7" height="8.7" fill="#ff0000"/>
<rect x="189.15" y="281.35" width="8.7" height="8.7" fill="#ff0000"/>
<rect x="208.25" y="281.15" width="8.7" height="8.7" fill="#ff0000"/>
<rect x="227.35" y="283.65" width="8.7" height="8.7" fill="#ff0000"/>
<rect x="246.45" y="285.35" width="8.7" height="8.7" fill="#ff0000"/>
<rect x="265.55" y="286.65" width="8.7" height="8.7" fill="#ff0000"/>
<rect x="303.65" y="294.15" width="8.7" height="8.7" fill="#ff0000"/>
<rect x="341.85" y="308.85" width="8.7" height="8.7" fill="#ff0000"/>
<rect x="380.05" y="328.95" width="8.7" height="8.7" fill="#ff0000"/>
<rect x="418.2" y="346.85" width="8.7" height="8.7" fill="#ff0000"/>
<rect x="456.35" y="359.25" width="8.7" height="8.7" fill="#ff0000"/>
<rect x="494.55" y="364.85" width="8.7" height="8.7" fill="#ff0000"/>
<rect x="532.75" y="366.25" width="8.7" height="8.7" fill="#ff0000"/>
<rect x="570.85" y="366.55" width="8.7" height="8.7" fill="#ff0000"/>
<rect x="609.05" y="366.55" width="8.7" height="8.7" fill="#ff0000"/>
<polyline points="109.6,334.9 117.2,339 124.9,342.8 132.5,345.9 140.1,349.1 155.4,355.8 174.4,361.5 193.5,365.5 212.6,367.5 231.7,369 250.8,370 269.9,370.4 308,370.9 346.2,370.9 384.4,370.9 422.55,370.9 460.7,370.9 498.9,370.9 537.1,370.9 575.2,370.9 613.4,370.9" fill="none" stroke="#00ff00" stroke-width="1.65" stroke-linejoin="round"/>
<polygon points="109.6,329.43 104.6,337.63 114.6,337.63" fill="#00ff00"/>
<polygon points="117.2,333.53 112.2,341.73 122.2,341.73" fill="#00ff00"/>
<polygon points="124.9,337.33 119.9,345.53 129.9,345.53" fill="#00ff00"/>
<polygon points="132.5,340.43 127.5,348.63 137.5,348.63" fill="#00ff00"/>
<polygon points="140.1,343.63 135.1,351.83 145.1,351.83" fill="#00ff00"/>
<polygon points="155.4,350.33 150.4,358.53 160.4,358.53" fill="#00ff00"/>
<polygon points="174.4,356.03 169.4,364.23 179.4,364.23" fill="#00ff00"/>
<polygon points="193.5,360.03 188.5,368.23 198.5,368.23" fill="#00ff00"/>
<polygon points="212.6,362.03 207.6,370.23 217.6,370.23" fill="#00ff00"/>
<polygon points="231.7,363.53 226.7,371.73 236.7,371.73" fill="#00ff00"/>
<polygon points="250.8,364.53 245.8,372.73 255.8,372.73" fill="#00ff00"/>
<polygon points="269.9,364.93 264.9,373.13 274.9,373.13" fill="#00ff00"/>
<polygon points="308,365.43 303,373.63 313,373.63" fill="#00ff00"/>
<polygon points="346.2,365.43 341.2,373.63 351.2,373.63" fill="#00ff00"/>
<polygon points="384.4,365.43 379.4,373.63 389.4,373.63" fill="#00ff00"/>
<polygon points="422.55,365.43 417.55,373.63 427.55,373.63" fill="#00ff00"/>
<polygon points="460.7,365.43 455.7,373.63 465.7,373.63" fill="#00ff00"/>
<polygon points="498.9,365.43 493.9,373.63 503.9,373.63" fill="#00ff00"/>
<polygon points="537.1,365.43 532.1,373.63 542.1,373.63" fill="#00ff00"/>
<polygon points="575.2,365.43 570.2,373.63 580.2,373.63" fill="#00ff00"/>
<polygon points="613.4,365.43 608.4,373.63 618.4,373.63" fill="#00ff00"/>
<polyline points="109.6,334.7 117.2,338.8 124.9,342.6 132.5,345.7 140.1,348.9 155.4,355.5 174.4,360.8 193.5,363.6 212.6,364.6 231.7,365.3 250.8,365.9 269.9,366.5 308,368.5 346.2,370 384.4,370.6 422.55,370.9 460.7,370.9 498.9,370.9 537.1,370.9 575.2,370.9 613.4,370.9" fill="none" stroke="#0000ff" stroke-width="1.65" stroke-linejoin="round"/>
<circle cx="109.6" cy="334.7" r="4.35" fill="#0000ff"/>
<circle cx="117.2" cy="338.8" r="4.35" fill="#0000ff"/>
<circle cx="124.9" cy="342.6" r="4.35" fill="#0000ff"/>
<circle cx="132.5" cy="345.7" r="4.35" fill="#0000ff"/>
<circle cx="140.1" cy="348.9" r="4.35" fill="#0000ff"/>
<circle cx="155.4" cy="355.5" r="4.35" fill="#0000ff"/>
<circle cx="174.4" cy="360.8" r="4.35" fill="#0000ff"/>
<circle cx="193.5" cy="363.6" r="4.35" fill="#0000ff"/>
<circle cx="212.6" cy="364.6" r="4.35" fill="#0000ff"/>
<circle cx="231.7" cy="365.3" r="4.35" fill="#0000ff"/>
<circle cx="250.8" cy="365.9" r="4.35" fill="#0000ff"/>
<circle cx="269.9" cy="366.5" r="4.35" fill="#0000ff"/>
<circle cx="308" cy="368.5" r="4.35" fill="#0000ff"/>
<circle cx="346.2" cy="370" r="4.35" fill="#0000ff"/>
<circle cx="384.4" cy="370.6" r="4.35" fill="#0000ff"/>
<circle cx="422.55" cy="370.9" r="4.35" fill="#0000ff"/>
<circle cx="460.7" cy="370.9" r="4.35" fill="#0000ff"/>
<circle cx="498.9" cy="370.9" r="4.35" fill="#0000ff"/>
<circle cx="537.1" cy="370.9" r="4.35" fill="#0000ff"/>
<circle cx="575.2" cy="370.9" r="4.35" fill="#0000ff"/>
<circle cx="613.4" cy="370.9" r="4.35" fill="#0000ff"/>
<polyline points="109.6,316.9 117.2,320.5 124.9,323.3 132.5,326.2 140.1,328.8 155.4,332.6 174.4,339 193.5,343.7 212.6,347 231.7,351 250.8,354.6 269.9,357.4 308,363.3 346.2,367.3 384.4,369.5 422.55,370.5 460.7,370.9 498.9,370.9 537.1,370.9 575.2,370.9 613.4,370.9" fill="none" stroke="#00ffff" stroke-width="1.65" stroke-linejoin="round"/>
<polygon points="109.6,311.5 114.6,316.9 109.6,322.3 104.6,316.9" fill="#00ffff"/>
<polygon points="117.2,315.1 122.2,320.5 117.2,325.9 112.2,320.5" fill="#00ffff"/>
<polygon points="124.9,317.9 129.9,323.3 124.9,328.7 119.9,323.3" fill="#00ffff"/>
<polygon points="132.5,320.8 137.5,326.2 132.5,331.6 127.5,326.2" fill="#00ffff"/>
<polygon points="140.1,323.4 145.1,328.8 140.1,334.2 135.1,328.8" fill="#00ffff"/>
<polygon points="155.4,327.2 160.4,332.6 155.4,338 150.4,332.6" fill="#00ffff"/>
<polygon points="174.4,333.6 179.4,339 174.4,344.4 169.4,339" fill="#00ffff"/>
<polygon points="193.5,338.3 198.5,343.7 193.5,349.1 188.5,343.7" fill="#00ffff"/>
<polygon points="212.6,341.6 217.6,347 212.6,352.4 207.6,347" fill="#00ffff"/>
<polygon points="231.7,345.6 236.7,351 231.7,356.4 226.7,351" fill="#00ffff"/>
<polygon points="250.8,349.2 255.8,354.6 250.8,360 245.8,354.6" fill="#00ffff"/>
<polygon points="269.9,352 274.9,357.4 269.9,362.8 264.9,357.4" fill="#00ffff"/>
<polygon points="308,357.9 313,363.3 308,368.7 303,363.3" fill="#00ffff"/>
<polygon points="346.2,361.9 351.2,367.3 346.2,372.7 341.2,367.3" fill="#00ffff"/>
<polygon points="384.4,364.1 389.4,369.5 384.4,374.9 379.4,369.5" fill="#00ffff"/>
<polygon points="422.55,365.1 427.55,370.5 422.55,375.9 417.55,370.5" fill="#00ffff"/>
<polygon points="460.7,365.5 465.7,370.9 460.7,376.3 455.7,370.9" fill="#00ffff"/>
<polygon points="498.9,365.5 503.9,370.9 498.9,376.3 493.9,370.9" fill="#00ffff"/>
<polygon points="537.1,365.5 542.1,370.9 537.1,376.3 532.1,370.9" fill="#00ffff"/>
<polygon points="575.2,365.5 580.2,370.9 575.2,376.3 570.2,370.9" fill="#00ffff"/>
<polygon points="613.4,365.5 618.4,370.9 613.4,376.3 608.4,370.9" fill="#00ffff"/>
<polyline points="109.6,312.5 117.2,316.7 124.9,321.6 132.5,325.4 140.1,329.3 155.4,337.4 174.4,343.8 193.5,350.5 212.6,356 231.7,360 250.8,363 269.9,365 308,368.3 346.2,370 384.4,370.6 422.55,370.9 460.7,370.9 498.9,370.9 537.1,370.9 575.2,370.9 613.4,370.9" fill="none" stroke="#ff00ff" stroke-width="1.65" stroke-linejoin="round"/>
<polygon points="109.6,317.97 104.6,309.77 114.6,309.77" fill="#ff00ff"/>
<polygon points="117.2,322.17 112.2,313.97 122.2,313.97" fill="#ff00ff"/>
<polygon points="124.9,327.07 119.9,318.87 129.9,318.87" fill="#ff00ff"/>
<polygon points="132.5,330.87 127.5,322.67 137.5,322.67" fill="#ff00ff"/>
<polygon points="140.1,334.77 135.1,326.57 145.1,326.57" fill="#ff00ff"/>
<polygon points="155.4,342.87 150.4,334.67 160.4,334.67" fill="#ff00ff"/>
<polygon points="174.4,349.27 169.4,341.07 179.4,341.07" fill="#ff00ff"/>
<polygon points="193.5,355.97 188.5,347.77 198.5,347.77" fill="#ff00ff"/>
<polygon points="212.6,361.47 207.6,353.27 217.6,353.27" fill="#ff00ff"/>
<polygon points="231.7,365.47 226.7,357.27 236.7,357.27" fill="#ff00ff"/>
<polygon points="250.8,368.47 245.8,360.27 255.8,360.27" fill="#ff00ff"/>
<polygon points="269.9,370.47 264.9,362.27 274.9,362.27" fill="#ff00ff"/>
<polygon points="308,373.77 303,365.57 313,365.57" fill="#ff00ff"/>
<polygon points="346.2,375.47 341.2,367.27 351.2,367.27" fill="#ff00ff"/>
<polygon points="384.4,376.07 379.4,367.87 389.4,367.87" fill="#ff00ff"/>
<polygon points="422.55,376.37 417.55,368.17 427.55,368.17" fill="#ff00ff"/>
<polygon points="460.7,376.37 455.7,368.17 465.7,368.17" fill="#ff00ff"/>
<polygon points="498.9,376.37 493.9,368.17 503.9,368.17" fill="#ff00ff"/>
<polygon points="537.1,376.37 532.1,368.17 542.1,368.17" fill="#ff00ff"/>
<polygon points="575.2,376.37 570.2,368.17 580.2,368.17" fill="#ff00ff"/>
<polygon points="613.4,376.37 608.4,368.17 618.4,368.17" fill="#ff00ff"/>
<rect x="98.5" y="3.6" width="514.9" height="367.3" fill="none" stroke="#000" stroke-width="1.4"/>
<rect x="385.8" y="18.6" width="217.7" height="207.2" fill="#fff" stroke="#444" stroke-width="0.9"/>
<text transform="translate(522.6 35.5) scale(1 1)" font-family="'Liberation Serif', serif" font-size="20.5" text-anchor="end" fill="#000" letter-spacing="0.2">singlet A1g</text>
<text transform="translate(522.6 56.3) scale(1 1)" font-family="'Liberation Serif', serif" font-size="20.5" text-anchor="end" fill="#000" letter-spacing="0.2">A2g</text>
<text transform="translate(522.6 77.1) scale(1 1)" font-family="'Liberation Serif', serif" font-size="20.5" text-anchor="end" fill="#000" letter-spacing="0.2">B1g</text>
<text transform="translate(522.6 97.9) scale(1 1)" font-family="'Liberation Serif', serif" font-size="20.5" text-anchor="end" fill="#000" letter-spacing="0.2">B2g</text>
<text transform="translate(522.6 118.7) scale(1 1)" font-family="'Liberation Serif', serif" font-size="20.5" text-anchor="end" fill="#000" letter-spacing="0.2">Eu</text>
<text transform="translate(522.6 139.5) scale(1 1)" font-family="'Liberation Serif', serif" font-size="20.5" text-anchor="end" fill="#000" letter-spacing="0.2">triplet A1g</text>
<text transform="translate(522.6 160.3) scale(1 1)" font-family="'Liberation Serif', serif" font-size="20.5" text-anchor="end" fill="#000" letter-spacing="0.2">A2g</text>
<text transform="translate(522.6 181.1) scale(1 1)" font-family="'Liberation Serif', serif" font-size="20.5" text-anchor="end" fill="#000" letter-spacing="0.2">B1g</text>
<text transform="translate(522.6 201.9) scale(1 1)" font-family="'Liberation Serif', serif" font-size="20.5" text-anchor="end" fill="#000" letter-spacing="0.2">B2g</text>
<text transform="translate(522.6 222.7) scale(1 1)" font-family="'Liberation Serif', serif" font-size="20.5" text-anchor="end" fill="#000" letter-spacing="0.2">Eu</text>
<path d="M535.2 28.7H590.7" stroke="#ff0000" stroke-width="1.65" fill="none"/>
<rect x="559.05" y="24.75" width="7.9" height="7.9" fill="none" stroke="#ff0000" stroke-width="1.6"/>
<path d="M535.2 49.5H590.7" stroke="#00ff00" stroke-width="1.65" fill="none"/>
<polygon points="563,44.3 558.5,52.1 567.5,52.1" fill="none" stroke="#00ff00" stroke-width="1.6" stroke-linejoin="miter"/>
<path d="M535.2 70.3H590.7" stroke="#0000ff" stroke-width="1.65" fill="none"/>
<circle cx="563" cy="70.3" r="4" fill="none" stroke="#0000ff" stroke-width="1.6"/>
<path d="M535.2 91.1H590.7" stroke="#00ffff" stroke-width="1.65" fill="none"/>
<polygon points="563,86.2 567.3,91.1 563,96 558.7,91.1" fill="none" stroke="#00ffff" stroke-width="1.6"/>
<path d="M535.2 111.9H590.7" stroke="#ff00ff" stroke-width="1.65" fill="none"/>
<polygon points="563,117.1 558.5,109.3 567.5,109.3" fill="none" stroke="#ff00ff" stroke-width="1.6" stroke-linejoin="miter"/>
<path d="M535.2 132.7H590.7" stroke="#ff0000" stroke-width="1.65" fill="none"/>
<rect x="558.65" y="128.35" width="8.7" height="8.7" fill="#ff0000"/>
<path d="M535.2 153.5H590.7" stroke="#00ff00" stroke-width="1.65" fill="none"/>
<polygon points="563,148.03 558,156.23 568,156.23" fill="#00ff00"/>
<path d="M535.2 174.3H590.7" stroke="#0000ff" stroke-width="1.65" fill="none"/>
<circle cx="563" cy="174.3" r="4.35" fill="#0000ff"/>
<path d="M535.2 195.1H590.7" stroke="#00ffff" stroke-width="1.65" fill="none"/>
<polygon points="563,189.7 568,195.1 563,200.5 558,195.1" fill="#00ffff"/>
<path d="M535.2 215.9H590.7" stroke="#ff00ff" stroke-width="1.65" fill="none"/>
<polygon points="563,221.37 558,213.17 568,213.17" fill="#ff00ff"/>
<text transform="translate(86 377.7) scale(1 1)" font-family="'Liberation Serif', serif" font-size="20.8" text-anchor="end" fill="#000">0</text>
<text transform="translate(86 316.48) scale(1 1)" font-family="'Liberation Serif', serif" font-size="20.8" text-anchor="end" fill="#000">0.2</text>
<text transform="translate(86 255.27) scale(1 1)" font-family="'Liberation Serif', serif" font-size="20.8" text-anchor="end" fill="#000">0.4</text>
<text transform="translate(86 194.05) scale(1 1)" font-family="'Liberation Serif', serif" font-size="20.8" text-anchor="end" fill="#000">0.6</text>
<text transform="translate(86 132.83) scale(1 1)" font-family="'Liberation Serif', serif" font-size="20.8" text-anchor="end" fill="#000">0.8</text>
<text transform="translate(86 71.62) scale(1 1)" font-family="'Liberation Serif', serif" font-size="20.8" text-anchor="end" fill="#000">1</text>
<text transform="translate(86 10.4) scale(1 1)" font-family="'Liberation Serif', serif" font-size="20.8" text-anchor="end" fill="#000">1.2</text>
<text transform="translate(234 399.2) scale(1 1)" font-family="'Liberation Serif', serif" font-size="20.8" text-anchor="middle" fill="#000">0.1</text>
<text transform="translate(425 399.2) scale(1 1)" font-family="'Liberation Serif', serif" font-size="20.8" text-anchor="middle" fill="#000">1</text>
<text transform="translate(617 399.2) scale(1 1)" font-family="'Liberation Serif', serif" font-size="20.8" text-anchor="middle" fill="#000">10</text>
<text transform="translate(356.4 430.6) scale(1 1)" font-family="'Liberation Serif', serif" font-size="22" text-anchor="middle" font-style="italic" fill="#000">T</text>
<g transform="translate(21.7 203.6) rotate(-90)" font-family="'Liberation Serif', serif" fill="#000"><text x="0" y="0" font-size="22">λ</text><text x="11.6" y="-8.9" font-size="17.6">SC</text></g>
</svg>
</body>
</html>
